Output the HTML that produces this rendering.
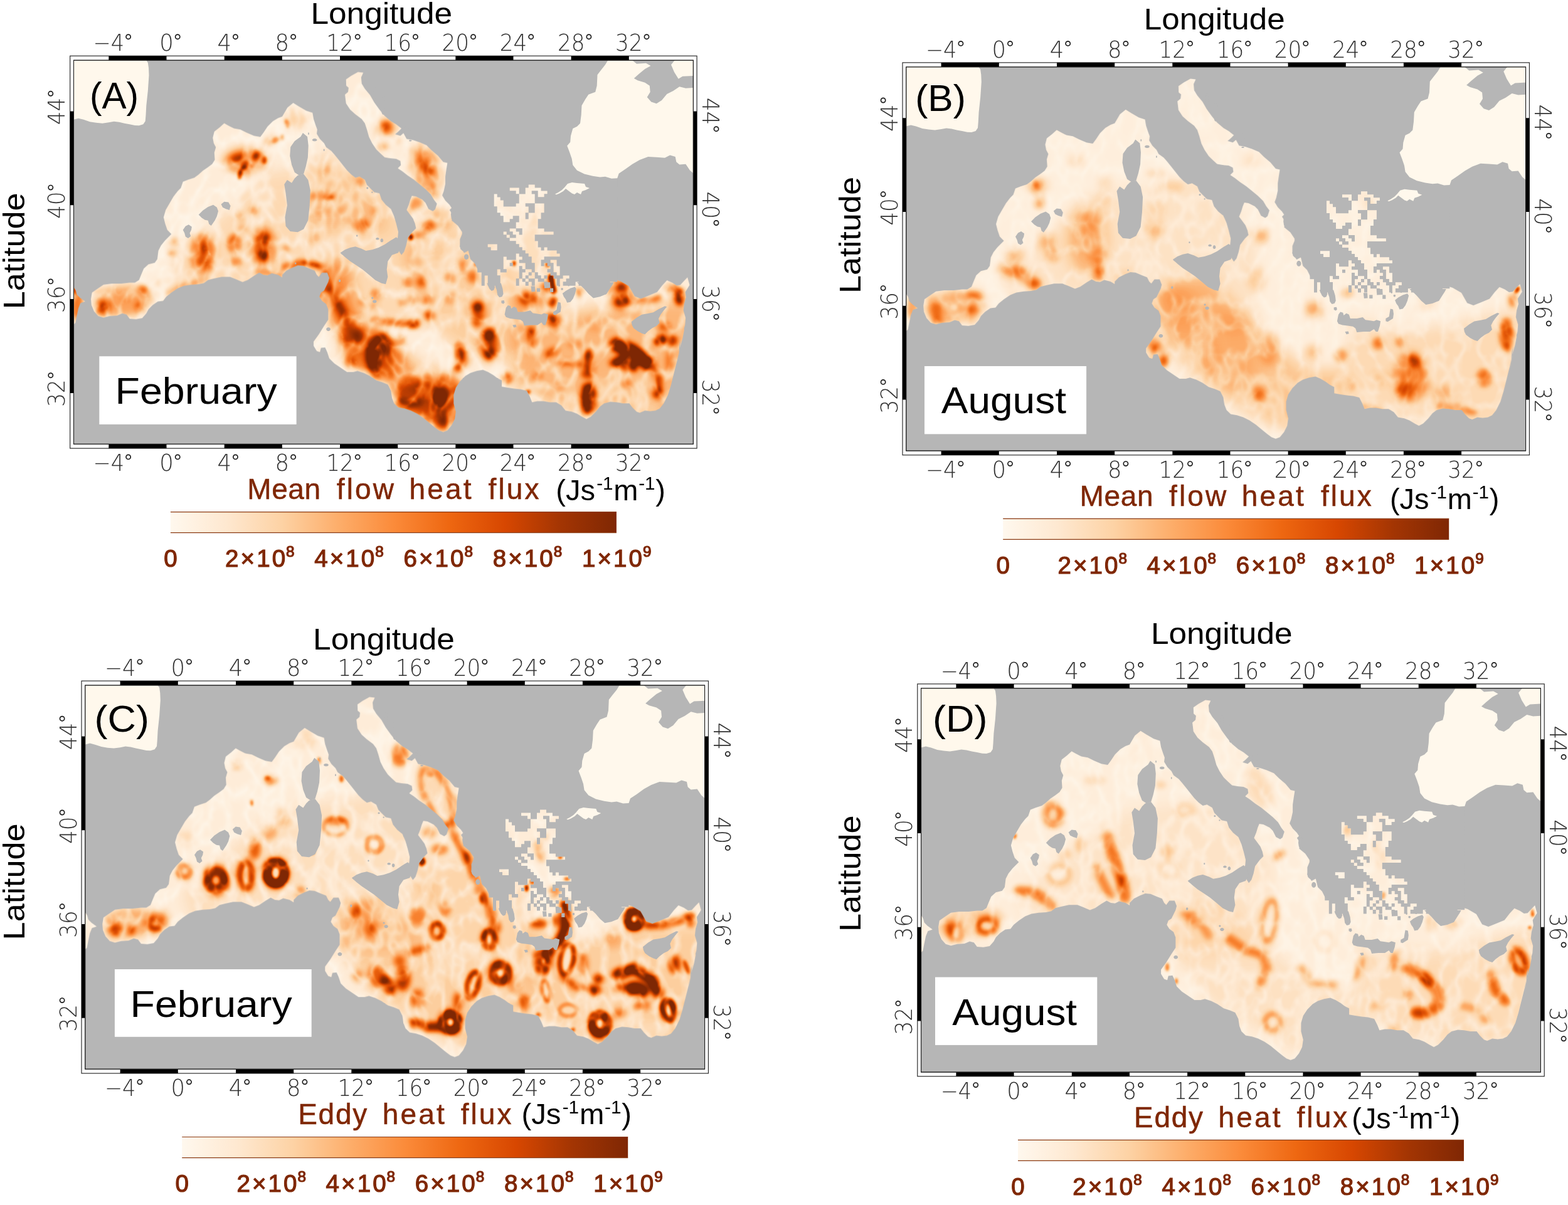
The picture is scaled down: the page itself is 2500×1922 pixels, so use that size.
<!DOCTYPE html>
<html lang="en"><head><meta charset="utf-8"><title>Heat flux maps</title>
<style>html,body{margin:0;padding:0;background:#fff}svg{display:block}text{font-family:"Liberation Sans",sans-serif}.tk{font-family:"DejaVu Sans Light","DejaVu Sans","Liberation Sans",sans-serif;font-weight:200;font-size:36.5px;fill:#303030}.dg{fill:none;stroke:#1c1c1c;stroke-width:1.7px}.cb{font-family:"Liberation Sans",sans-serif;fill:#7f2704;stroke:#7f2704;stroke-width:0.5px}.cbl{stroke-width:1.2px}</style></head><body>
<svg xmlns="http://www.w3.org/2000/svg" width="2500" height="1922" viewBox="0 0 2500 1922">
<defs>
<clipPath id="mapclip"><rect x="0" y="0" width="987.0" height="611.5"/></clipPath>
<mask id="sea" maskUnits="userSpaceOnUse" x="0" y="0" width="987.0" height="611.5"><g fill="#fff"><path d="M27.1,380.6 28.8,370.3 37.1,364.4 47.1,357.8 60.4,356.1 75.4,356.1 88.8,354.4 97.1,354.4 103.8,350.3 107.1,341.9 111.3,331.9 118.8,325.3 128.8,322.8 132.9,316.9 134.6,303.6 138.8,295.3 145.4,286.9 155.4,276.9 148.8,270.3 145.4,260.3 142.9,250.3 146.3,238.6 152.1,228.6 158.8,216.9 165.4,208.6 170.4,203.6 173.8,193.6 182.1,190.3 192.1,186.9 198.8,181.9 205.4,176.1 213.8,170.3 220.4,165.3 224.6,158.6 223.8,146.9 226.3,138.6 222.9,131.9 221.3,123.6 223.8,113.6 232.1,106.9 239.6,100.3 245.4,103.6 255.4,108.6 265.4,110.3 275.4,115.3 287.1,120.3 297.1,121.9 302.1,115.3 308.8,105.3 317.1,96.9 325.4,91.9 332.1,89.4 340.4,75.3 349.6,67.8 358.8,73.6 370.4,80.3 380.4,83.6 382.1,93.6 385.4,103.6 387.9,110.3 387.1,116.9 392.1,125.3 398.8,131.9 402.1,138.6 410.4,144.4 415.4,150.3 422.1,158.6 428.8,166.9 435.4,175.3 442.1,181.9 448.8,186.9 455.4,185.3 463.8,190.3 467.1,198.6 473.8,205.3 478.8,210.3 487.1,211.9 490.4,221.9 497.1,230.3 505.4,236.9 510.4,248.6 513.8,260.3 517.1,273.6 516.3,281.9 513.8,290.3 515.4,298.6 518.8,305.3 522.1,310.3 526.3,305.3 529.6,295.3 532.1,283.6 539.6,273.6 545.4,267.8 543.8,260.3 540.4,251.9 535.4,245.3 530.4,238.6 533.8,230.3 536.3,221.9 538.8,216.1 545.4,216.9 555.4,221.9 560.4,226.9 565.4,236.9 572.1,240.6 575.8,237.8 578.8,228.6 573.8,221.9 568.8,213.6 560.4,205.3 550.4,196.9 542.1,190.3 532.1,183.6 523.8,176.9 516.3,171.9 521.3,166.9 520.4,160.3 513.8,156.9 503.8,156.1 495.4,154.4 488.8,148.6 482.1,141.9 475.4,131.9 470.4,121.9 467.1,110.3 463.8,100.3 458.8,93.6 448.8,86.1 440.4,78.6 433.8,68.6 432.1,54.4 437.1,50.3 437.9,43.6 434.1,40.3 433.8,30.3 442.1,24.4 452.9,18.6 461.3,19.4 457.9,26.9 458.8,36.9 463.8,45.3 472.1,55.3 478.8,66.9 487.1,78.6 495.4,88.6 505.4,96.9 513.8,101.9 522.1,108.6 517.1,113.6 512.1,117.8 520.4,120.3 525.4,116.1 530.4,125.3 540.4,126.9 550.4,130.3 562.1,135.3 570.4,143.6 580.4,151.9 588.8,161.9 595.4,163.6 593.8,173.6 592.1,185.3 592.1,196.9 589.6,208.6 587.1,215.3 592.1,223.6 598.8,230.3 602.1,235.3 598.8,238.6 605.4,248.6 602.1,255.3 612.1,263.6 618.8,273.6 618.8,276.9 615.4,285.3 615.4,296.9 622.1,306.9 628.8,303.6 632.1,316.9 638.8,323.6 643.8,333.6 647.1,345.3 652.1,355.3 658.8,350.3 663.8,360.3 665.5,365.7 668.3,351.5 672.5,350.7 676.4,361.2 682.1,364.6 679.4,352.6 676.4,339.5 671.8,328.3 672.9,322.7 679.8,327.5 682.1,332.0 689.0,327.5 686.7,320.0 681.0,317.0 677.5,309.5 685.6,306.5 692.0,308.4 696.0,314.0 701.3,318.9 702.9,313.3 701.0,303.9 701.7,300.2 707.5,305.8 710.9,307.7 714.4,300.9 707.5,290.8 704.0,282.2 696.0,275.8 687.9,268.4 682.1,266.5 679.8,263.9 685.6,257.1 682.1,251.5 677.5,244.0 671.8,234.6 668.8,227.2 668.8,217.8 671.8,210.3 676.4,207.7 674.8,215.9 681.0,220.8 686.7,223.4 686.7,230.9 694.8,233.5 693.6,223.4 697.1,225.3 700.6,232.8 700.6,221.5 705.2,221.5 709.8,226.0 701.7,214.0 696.0,206.6 700.6,201.7 709.8,196.1 719.0,198.7 725.9,194.6 735.1,198.3 744.3,199.1 748.9,204.7 757.0,205.4 765.1,207.7 758.2,215.9 751.2,227.2 750.1,232.8 750.1,240.3 748.3,250.4 758.2,249.6 768.5,247.4 761.6,257.1 766.2,265.7 768.5,272.1 763.9,280.7 772.0,288.9 765.1,290.8 761.6,282.6 755.9,280.3 753.6,293.8 758.2,300.2 765.1,301.3 770.8,305.8 775.4,310.7 774.3,318.9 770.1,320.0 775.4,330.1 783.5,333.9 776.6,339.5 779.6,343.2 790.4,341.4 799.6,342.5 788.1,348.9 778.9,355.2 790.4,352.6 793.9,356.4 798.9,348.9 806.5,354.5 813.5,352.6 818.1,356.4 818.1,367.6 825.0,373.2 830.7,373.2 842.3,369.5 848.0,373.2 851.9,358.2 854.9,347.7 861.8,348.9 871.1,351.9 884.9,360.1 894.1,376.2 904.0,380.0 914.8,375.8 929.8,369.5 937.9,359.0 945.5,350.7 954.0,354.5 960.9,359.0 966.7,358.2 972.4,351.9 978.2,345.9 981.6,358.2 974.7,369.5 975.9,377.7 972.9,388.2 971.7,398.7 975.2,410.7 974.3,421.9 968.8,441.9 965.4,453.6 963.8,470.3 962.1,483.6 971.8,418.6 972.9,430.3 970.4,443.6 965.4,460.3 962.1,476.9 957.1,496.9 952.1,516.9 947.1,533.6 940.4,546.9 933.8,555.3 927.1,558.6 918.8,559.4 910.4,558.6 902.1,561.9 897.1,560.3 890.4,553.6 885.4,546.9 875.4,546.9 865.4,545.3 855.4,544.4 845.4,546.9 838.8,551.9 832.1,560.3 823.8,568.6 817.1,571.9 810.4,568.6 802.1,563.6 793.8,560.3 783.8,558.6 777.1,550.3 768.8,545.3 758.8,545.3 748.8,543.6 738.8,543.6 730.4,545.3 727.1,536.9 722.1,526.9 712.1,524.4 702.1,523.6 692.1,521.9 682.1,520.3 682.1,510.3 675.4,506.9 668.8,501.9 660.4,496.9 652.1,493.6 642.1,495.3 632.1,498.6 623.8,503.6 615.4,511.9 608.8,521.9 605.4,533.6 605.4,546.9 608.8,560.3 607.1,571.9 602.1,581.9 595.4,590.3 588.8,592.8 582.1,590.3 575.4,585.3 567.1,578.6 557.1,570.3 547.1,563.6 537.1,558.6 527.1,555.3 517.1,553.6 510.4,546.9 507.1,538.6 505.4,526.9 500.4,516.9 492.1,513.6 482.1,510.3 472.1,503.6 462.1,498.6 452.1,495.3 445.4,496.9 435.4,496.9 425.4,490.3 415.4,483.6 407.1,475.3 403.8,465.3 400.4,457.8 393.8,458.6 392.1,465.3 387.1,463.6 382.1,455.3 382.1,448.6 390.4,436.9 398.8,423.6 405.4,413.6 405.4,406.9 405.4,396.9 402.1,388.6 395.4,383.6 391.3,376.9 393.8,370.3 398.8,366.9 402.1,360.3 405.4,353.6 407.1,346.9 403.8,338.6 395.4,338.6 390.4,345.3 387.1,341.9 383.8,335.3 375.4,331.9 365.4,327.8 357.1,326.9 348.8,330.3 338.8,335.3 332.1,341.9 332.1,346.1 325.4,341.9 315.4,339.4 308.8,342.8 302.1,341.9 295.4,338.6 287.1,343.6 277.1,350.3 268.8,353.6 257.1,348.6 248.8,345.3 235.4,345.3 223.8,347.8 213.8,350.3 207.1,355.3 198.8,356.9 187.1,357.8 175.4,359.4 165.4,363.6 155.4,370.3 147.1,376.9 142.1,383.6 133.8,384.4 125.4,390.3 118.8,396.9 115.4,403.6 108.8,411.1 98.8,412.8 88.8,411.9 83.8,405.3 77.1,403.6 68.8,406.9 57.1,407.8 47.1,410.3 38.8,407.8 32.1,400.3 27.9,390.3Z"/><path d="M-1.2,360.3 2.9,366.9 4.6,373.6 9.6,378.6 17.9,384.4 10.4,386.9 7.1,395.3 4.6,406.9 2.4,418.6 -1.2,421.9Z"/><rect x="644.8" y="182.9" width="219.9" height="174.9"/></g></mask>
<path id="flat" d="M-1.2,-1.4 114.6,-1.4 117.9,3.6 119.1,11.9 119.6,23.6 117.9,48.6 115.4,71.9 114.6,86.9 113.8,96.9 110.4,101.9 103.8,103.9 97.1,103.6 88.8,101.9 80.4,100.3 72.1,98.3 63.8,97.3 55.4,98.9 45.4,100.3 35.4,99.4 25.4,97.8 15.4,94.4 7.1,92.3 -1.2,94.4ZM852.1,-1.4 847.1,6.9 840.4,15.3 834.6,22.8 833.8,40.3 831.3,50.3 820.4,54.4 815.4,61.9 809.6,71.9 808.8,86.9 807.1,100.3 802.1,105.3 795.4,108.6 792.1,120.3 791.3,130.3 786.3,136.1 790.4,146.9 793.8,156.9 795.4,166.9 802.1,175.3 813.8,181.1 827.1,184.4 838.8,186.1 847.1,185.3 857.1,188.3 866.3,187.8 868.8,180.3 878.8,173.6 890.4,165.3 902.1,158.6 915.4,153.6 928.8,154.4 942.1,155.3 950.4,151.1 958.8,153.6 960.4,161.9 965.4,166.1 975.4,165.3 982.1,175.3 988.8,181.1 988.8,43.6 975.4,44.4 965.4,41.9 955.4,48.6 945.4,53.6 937.1,63.6 928.8,68.9 920.4,66.1 913.8,58.6 918.8,50.3 917.9,40.3 910.4,35.3 898.8,31.9 892.9,28.6 900.4,21.9 910.4,13.6 919.6,8.6 912.1,4.4 897.1,5.3 888.8,-1.4ZM958.8,-1.4 952.1,6.9 957.1,18.6 963.8,29.4 970.4,25.3 988.8,24.4 988.8,-1.4ZM767.1,213.1 772.1,210.6 778.1,206.6 782.1,202.6 787.1,196.6 794.1,194.6 802.1,195.6 814.1,196.6 816.1,201.6 822.1,203.6 816.1,206.6 810.1,208.6 808.1,213.6 802.1,210.6 798.1,213.6 794.1,212.1 788.1,207.6 784.1,204.6 780.1,208.6 774.1,212.1 769.1,214.1Z" fill="#fff8ec"/>
<g id="isl" fill="#b6b6b6">
<path d="M198.8,246.1 205.4,239.4 213.8,233.6 222.1,230.3 227.9,234.4 230.1,240.3 227.9,248.6 224.6,255.3 218.8,263.6 215.4,261.1 213.8,255.3 208.8,254.4 203.8,251.1Z"/>
<path d="M234.6,229.4 239.6,225.3 246.3,226.1 249.6,231.9 247.9,238.6 242.1,236.9 237.1,234.4Z"/>
<path d="M173.8,270.3 177.9,264.4 182.9,261.9 187.9,265.3 187.1,270.3 184.6,275.3 186.3,280.3 182.1,283.6 177.9,281.1 176.3,275.3Z"/>
<path d="M365.0,115.5 372.2,121.5 373.8,135.8 372.9,154.8 369.8,169.1 366.2,181.0 359.1,183.4 351.9,178.6 347.2,166.7 344.3,152.4 345.3,138.1 351.9,128.6 361.5,121.5Z"/>
<path d="M356.7,183.4 366.2,181.0 373.4,190.5 376.9,207.2 375.8,231.0 373.4,254.8 366.2,269.1 356.7,273.9 344.8,272.7 337.7,264.3 336.5,250.0 340.0,231.0 337.7,211.9 335.3,197.7 340.0,190.5 347.2,195.3 351.9,188.1Z"/>
<path d="M424.6,306.9 432.1,301.9 440.4,298.6 448.8,296.9 458.8,300.3 465.4,303.6 475.4,301.9 485.4,298.6 495.4,293.6 505.4,286.9 513.8,281.9 519.6,286.9 521.3,296.9 517.1,306.9 507.1,310.3 500.4,320.3 498.8,333.6 500.4,345.3 497.1,356.9 490.4,355.3 480.4,350.3 470.4,341.9 460.4,333.6 450.4,326.9 440.4,320.3 432.1,313.6Z"/>
<path d="M686.7,405.2 688.8,394.7 691.9,390.5 696.1,391.6 697.2,395.8 701.4,392.6 705.6,394.7 707.7,401.0 718.1,401.0 727.6,398.9 731.8,403.1 739.1,404.1 745.4,405.2 749.6,403.1 755.9,405.2 754.8,412.5 751.7,422.0 748.5,422.0 745.4,417.8 739.1,422.0 728.6,422.0 718.1,423.0 716.0,416.7 711.9,413.6 703.5,412.5 695.1,411.5 688.8,409.4Z"/>
<path d="M888.8,416.9 897.1,410.3 905.4,405.3 915.4,403.6 923.8,401.9 932.1,396.9 942.1,391.9 945.4,392.8 940.4,398.6 935.4,405.3 932.1,411.9 933.8,418.6 928.8,423.6 922.1,426.9 915.4,431.9 910.4,436.9 905.4,435.3 898.8,431.9 892.1,426.9 889.6,421.9Z"/>
<path d="M778.9,371.7 784.1,367.5 791.5,363.3 798.8,361.2 800.9,364.3 798.8,372.7 795.7,380.0 791.5,385.3 786.2,386.3 784.1,381.1 781.0,376.9Z"/>
<path d="M771.6,385.3 775.8,386.3 776.8,393.7 775.8,401.0 770.5,404.1 767.4,406.2 764.2,405.2 764.2,401.0 769.5,397.9 770.5,391.6Z"/>
<path d="M775.0,359.0 774.7,360.1 774.0,360.8 773.2,360.8 772.5,360.1 772.2,359.0 772.5,357.9 773.2,357.2 774.0,357.2 774.7,357.9Z"/>
<path d="M780.0,364.6 779.7,365.7 778.8,366.4 777.6,366.4 776.7,365.7 776.4,364.6 776.7,363.5 777.6,362.8 778.8,362.8 779.7,363.5Z"/>
<path d="M790.4,358.2 790.1,359.3 789.3,360.0 788.3,360.0 787.5,359.3 787.2,358.2 787.5,357.1 788.3,356.4 789.3,356.4 790.1,357.1Z"/>
<path d="M681.5,383.2 685.7,382.7 686.7,386.3 684.6,388.4 681.5,386.9Z"/>
<path d="M608.9,245.9 608.1,252.0 606.2,255.9 603.7,255.9 601.8,252.0 601.0,245.9 601.8,239.7 603.7,235.9 606.2,235.9 608.1,239.7Z"/>
<path d="M613.7,260.9 613.5,262.2 612.9,263.0 612.2,263.0 611.6,262.2 611.4,260.9 611.6,259.5 612.2,258.7 612.9,258.7 613.5,259.5Z"/>
<path d="M625.7,278.8 625.2,282.6 624.1,284.9 622.7,284.9 621.5,282.6 621.1,278.8 621.5,275.1 622.7,272.8 624.1,272.8 625.2,275.1Z"/>
<path d="M626.8,296.4 625.7,300.8 622.9,303.6 619.3,303.6 616.4,300.8 615.3,296.4 616.4,292.0 619.3,289.3 622.9,289.3 625.7,292.0Z"/>
<path d="M629.4,313.3 628.7,315.9 626.8,317.6 624.5,317.6 622.7,315.9 622.0,313.3 622.7,310.6 624.5,309.0 626.8,309.0 628.7,310.6Z"/>
<path d="M387.7,126.8 386.9,128.1 385.0,128.9 382.5,128.9 380.6,128.1 379.8,126.8 380.6,125.5 382.5,124.7 385.0,124.7 386.9,125.5Z"/>
<path d="M482.6,384.4 482.0,386.0 480.4,386.9 478.4,386.9 476.8,386.0 476.2,384.4 476.8,382.9 478.4,382.0 480.4,382.0 482.0,382.9Z"/>
<path d="M477.5,378.8 477.2,379.7 476.4,380.3 475.4,380.3 474.6,379.7 474.3,378.8 474.6,377.9 475.4,377.4 476.4,377.4 477.2,377.9Z"/>
<path d="M425.2,351.5 424.9,352.8 424.1,353.6 423.1,353.6 422.3,352.8 422.0,351.5 422.3,350.2 423.1,349.4 424.1,349.4 424.9,350.2Z"/>
<path d="M452.4,279.6 452.2,280.5 451.6,281.0 450.9,281.0 450.3,280.5 450.1,279.6 450.3,278.7 450.9,278.2 451.6,278.2 452.2,278.7Z"/>
<path d="M493.2,287.1 492.8,288.8 491.6,289.9 490.2,289.9 489.0,288.8 488.6,287.1 489.0,285.3 490.2,284.2 491.6,284.2 492.8,285.3Z"/>
<path d="M486.7,284.5 486.2,285.6 484.8,286.2 483.1,286.2 481.7,285.6 481.2,284.5 481.7,283.4 483.1,282.7 484.8,282.7 486.2,283.4Z"/>
<path d="M354.5,323.8 354.3,324.7 353.7,325.2 353.0,325.2 352.4,324.7 352.2,323.8 352.4,322.9 353.0,322.4 353.7,322.4 354.3,322.9Z"/>
<path d="M699.3,422.0 704.5,421.4 705.6,425.1 701.4,426.1Z"/>
<path d="M409.1,428.6 408.4,430.4 406.7,431.5 404.6,431.5 402.9,430.4 402.2,428.6 402.9,426.9 404.6,425.8 406.7,425.8 408.4,426.9Z"/>
<path d="M402.2,463.1 401.4,465.3 399.5,466.7 397.1,466.7 395.1,465.3 394.4,463.1 395.1,460.9 397.1,459.5 399.5,459.5 401.4,460.9Z"/>
<path d="M522.0,117.4 521.6,118.3 520.4,118.9 519.0,118.9 517.8,118.3 517.4,117.4 517.8,116.5 519.0,116.0 520.4,116.0 521.6,116.5Z"/>
<path d="M538.6,127.9 538.1,128.6 537.0,129.0 535.6,129.0 534.4,128.6 534.0,127.9 534.4,127.3 535.6,126.8 537.0,126.8 538.1,127.3Z"/>
<path d="M556.6,127.9 555.7,128.8 553.4,129.3 550.5,129.3 548.2,128.8 547.3,127.9 548.2,127.0 550.5,126.5 553.4,126.5 555.7,127.0Z"/>
<path d="M542.7,120.4 541.6,121.5 538.8,122.2 535.2,122.2 532.3,121.5 531.2,120.4 532.3,119.3 535.2,118.6 538.8,118.6 541.6,119.3Z"/>
<path d="M539.3,112.9 538.0,113.8 534.5,114.4 530.2,114.4 526.8,113.8 525.5,112.9 526.8,112.1 530.2,111.5 534.5,111.5 538.0,112.1Z"/>
<path d="M535.8,106.6 534.9,107.9 532.6,108.7 529.8,108.7 527.5,107.9 526.6,106.6 527.5,105.2 529.8,104.4 532.6,104.4 534.9,105.2Z"/>
<path d="M496.0,81.1 495.4,84.4 494.1,86.4 492.3,86.4 491.0,84.4 490.4,81.1 491.0,77.8 492.3,75.8 494.1,75.8 495.4,77.8Z"/>
<path d="M481.7,53.0 481.2,59.6 480.1,63.7 478.7,63.7 477.5,59.6 477.1,53.0 477.5,46.4 478.7,42.3 480.1,42.3 481.2,46.4Z"/>
<path d="M496.0,62.4 495.4,65.7 494.1,67.7 492.3,67.7 491.0,65.7 490.4,62.4 491.0,59.1 492.3,57.0 494.1,57.0 495.4,59.1Z"/>
<path d="M375.0,116.7 374.8,117.8 374.4,118.5 373.8,118.5 373.3,117.8 373.2,116.7 373.3,115.6 373.8,114.9 374.4,114.9 374.8,115.6Z"/>
<path d="M399.7,142.9 399.5,144.0 399.0,144.7 398.5,144.7 398.0,144.0 397.8,142.9 398.0,141.8 398.5,141.1 399.0,141.1 399.5,141.8Z"/>
<path d="M469.5,203.6 469.2,204.4 468.4,205.0 467.4,205.0 466.6,204.4 466.2,203.6 466.6,202.7 467.4,202.1 468.4,202.1 469.2,202.7Z"/>
<path d="M476.6,210.3 476.4,211.0 475.8,211.4 475.1,211.4 474.5,211.0 474.3,210.3 474.5,209.6 475.1,209.2 475.8,209.2 476.4,209.6Z"/>
<path d="M431.5,307.7 430.9,308.8 429.5,309.5 427.8,309.5 426.5,308.8 425.9,307.7 426.5,306.6 427.8,305.9 429.5,305.9 430.9,306.6Z"/>
<path d="M183.3,279.6 182.9,280.7 181.7,281.4 180.3,281.4 179.1,280.7 178.7,279.6 179.1,278.5 180.3,277.8 181.7,277.8 182.9,278.5Z"/>
<path d="M728.6,360.1 734.9,360.1 735.4,368.5 729.7,369.0Z"/>
<path d="M738.0,363.3 743.3,363.3 743.3,369.0 738.0,369.0Z"/>
<path d="M749.6,353.9 759.0,353.9 759.5,362.8 750.1,363.3Z"/>
<path d="M759.0,363.3 764.2,363.3 764.2,369.6 759.0,369.6Z"/>
<path d="M658.4,355.4 670.5,355.4 671.0,362.2 669.4,366.4 665.8,367.5 662.6,364.3 660.5,360.1Z"/>
<path d="M671.5,355.4 680.9,355.4 683.6,364.3 684.6,372.7 682.5,376.9 678.3,377.9 675.2,373.8 674.1,366.4 672.0,361.2Z"/>
<path d="M802.0,353.9 806.1,358.0 808.2,359.1 813.5,364.3 820.8,372.7 828.1,379.0 838.6,376.9 849.1,372.7 854.3,364.3 858.5,358.0 860.6,353.9Z"/>
<path d="M643.3,181.4h222.9v6.8h-222.9zM643.3,187.9h222.9v5.3h-222.9zM643.3,192.9h222.9v5.3h-222.9zM643.3,197.9h81.5v5.3h-81.5zM734.8,197.9h131.4v5.3h-131.4zM643.3,202.9h51.5v5.3h-51.5zM709.8,202.9h10.0v5.3h-10.0zM744.7,202.9h121.4v5.3h-121.4zM643.3,207.9h61.5v5.3h-61.5zM709.8,207.9h10.0v5.3h-10.0zM729.8,207.9h10.0v5.3h-10.0zM754.7,207.9h111.4v5.3h-111.4zM643.3,212.9h26.5v5.3h-26.5zM674.8,212.9h35.0v5.3h-35.0zM734.8,212.9h5.0v5.3h-5.0zM749.7,212.9h116.4v5.3h-116.4zM643.3,217.9h26.5v5.3h-26.5zM679.8,217.9h30.0v5.3h-30.0zM734.8,217.9h131.4v5.3h-131.4zM643.3,222.9h26.5v5.3h-26.5zM684.8,222.9h25.0v5.3h-25.0zM734.8,222.9h131.4v5.3h-131.4zM643.3,227.9h26.5v5.3h-26.5zM684.8,227.9h20.0v5.3h-20.0zM719.8,227.9h15.0v5.3h-15.0zM749.7,227.9h116.4v5.3h-116.4zM643.3,232.9h31.5v5.3h-31.5zM724.8,232.9h10.0v5.3h-10.0zM749.7,232.9h116.4v5.3h-116.4zM643.3,237.9h31.5v5.3h-31.5zM724.8,237.9h10.0v5.3h-10.0zM749.7,237.9h116.4v5.3h-116.4zM643.3,242.9h36.5v5.3h-36.5zM719.8,242.9h5.0v5.3h-5.0zM744.7,242.9h121.4v5.3h-121.4zM643.3,247.9h41.5v5.3h-41.5zM699.8,247.9h10.0v5.3h-10.0zM719.8,247.9h5.0v5.3h-5.0zM744.7,247.9h121.4v5.3h-121.4zM643.3,252.9h41.5v5.3h-41.5zM694.8,252.9h15.0v5.3h-15.0zM739.8,252.9h126.4v5.3h-126.4zM643.3,257.9h61.5v5.3h-61.5zM739.8,257.9h126.4v5.3h-126.4zM643.3,262.9h61.5v5.3h-61.5zM739.8,262.9h126.4v5.3h-126.4zM643.3,267.9h51.5v5.3h-51.5zM704.8,267.9h10.0v5.3h-10.0zM749.7,267.9h116.4v5.3h-116.4zM643.3,272.9h41.5v5.3h-41.5zM689.8,272.9h10.0v5.3h-10.0zM709.8,272.9h5.0v5.3h-5.0zM764.7,272.9h101.4v5.3h-101.4zM643.3,277.9h46.5v5.3h-46.5zM694.8,277.9h10.0v5.3h-10.0zM734.8,277.9h131.4v5.3h-131.4zM643.3,282.8h51.5v5.3h-51.5zM734.8,282.8h131.4v5.3h-131.4zM643.3,287.8h61.5v5.3h-61.5zM739.8,287.8h126.4v5.3h-126.4zM643.3,292.8h16.5v5.3h-16.5zM674.8,292.8h35.0v5.3h-35.0zM739.8,292.8h126.4v5.3h-126.4zM643.3,297.8h21.5v5.3h-21.5zM674.8,297.8h40.0v5.3h-40.0zM744.7,297.8h5.0v5.3h-5.0zM754.7,297.8h111.4v5.3h-111.4zM643.3,302.8h76.5v5.3h-76.5zM769.7,302.8h96.5v5.3h-96.5zM643.3,307.8h61.5v5.3h-61.5zM709.8,307.8h15.0v5.3h-15.0zM774.7,307.8h91.5v5.3h-91.5zM643.3,312.8h41.5v5.3h-41.5zM689.8,312.8h15.0v5.3h-15.0zM714.8,312.8h15.0v5.3h-15.0zM749.7,312.8h116.4v5.3h-116.4zM643.3,317.8h41.5v5.3h-41.5zM709.8,317.8h20.0v5.3h-20.0zM744.7,317.8h15.0v5.3h-15.0zM769.7,317.8h96.5v5.3h-96.5zM643.3,322.8h41.5v5.3h-41.5zM694.8,322.8h5.0v5.3h-5.0zM719.8,322.8h15.0v5.3h-15.0zM744.7,322.8h5.0v5.3h-5.0zM754.7,322.8h10.0v5.3h-10.0zM769.7,322.8h96.5v5.3h-96.5zM643.3,327.8h41.5v5.3h-41.5zM709.8,327.8h5.0v5.3h-5.0zM719.8,327.8h15.0v5.3h-15.0zM759.7,327.8h5.0v5.3h-5.0zM774.7,327.8h91.5v5.3h-91.5zM643.3,332.8h31.5v5.3h-31.5zM679.8,332.8h10.0v5.3h-10.0zM709.8,332.8h10.0v5.3h-10.0zM729.8,332.8h5.0v5.3h-5.0zM754.7,332.8h10.0v5.3h-10.0zM774.7,332.8h91.5v5.3h-91.5zM649.8,337.8h25.0v5.3h-25.0zM709.8,337.8h5.0v5.3h-5.0zM724.8,337.8h5.0v5.3h-5.0zM734.8,337.8h5.0v5.3h-5.0zM759.7,337.8h10.0v5.3h-10.0zM774.7,337.8h91.5v5.3h-91.5zM649.8,342.8h5.0v5.3h-5.0zM659.8,342.8h20.0v5.3h-20.0zM709.8,342.8h5.0v5.3h-5.0zM719.8,342.8h5.0v5.3h-5.0zM734.8,342.8h10.0v5.3h-10.0zM749.7,342.8h5.0v5.3h-5.0zM764.7,342.8h15.0v5.3h-15.0zM789.7,342.8h76.5v5.3h-76.5zM649.8,347.8h5.0v5.3h-5.0zM659.8,347.8h20.0v5.3h-20.0zM704.8,347.8h5.0v5.3h-5.0zM714.8,347.8h5.0v5.3h-5.0zM724.8,347.8h10.0v5.3h-10.0zM739.8,347.8h10.0v5.3h-10.0zM769.7,347.8h5.0v5.3h-5.0zM784.7,347.8h81.5v5.3h-81.5zM649.8,352.8h5.0v6.5h-5.0zM659.8,352.8h20.0v6.5h-20.0zM704.8,352.8h5.0v6.5h-5.0zM719.8,352.8h5.0v6.5h-5.0zM729.8,352.8h5.0v6.5h-5.0zM749.7,352.8h5.0v6.5h-5.0zM769.7,352.8h5.0v6.5h-5.0zM779.7,352.8h20.0v6.5h-20.0zM804.7,352.8h50.0v6.5h-50.0z"/>
</g>
<filter id="cmapA" x="0" y="0" width="987.0" height="611.5" filterUnits="userSpaceOnUse" color-interpolation-filters="sRGB"><feTurbulence type="turbulence" baseFrequency="0.035 0.024" numOctaves="2" seed="11" result="t"/><feColorMatrix in="t" type="matrix" values="2.6 0 0 0 0  2.6 0 0 0 0  2.6 0 0 0 0  0 0 0 0 1" result="n"/><feGaussianBlur in="n" stdDeviation="1.2" result="nb"/><feComposite in="SourceGraphic" in2="nb" operator="arithmetic" k1="0.5" k2="0.74" k3="0.04" k4="-0.014" result="c"/><feComponentTransfer in="c"><feFuncR type="table" tableValues="1.000 0.996 0.992 0.992 0.984 0.933 0.843 0.639 0.498"/><feFuncG type="table" tableValues="0.973 0.910 0.824 0.682 0.545 0.404 0.278 0.208 0.153"/><feFuncB type="table" tableValues="0.933 0.816 0.643 0.420 0.227 0.067 0.004 0.012 0.016"/><feFuncA type="linear" slope="0" intercept="1"/></feComponentTransfer></filter>
<filter id="cmapB" x="0" y="0" width="987.0" height="611.5" filterUnits="userSpaceOnUse" color-interpolation-filters="sRGB"><feTurbulence type="turbulence" baseFrequency="0.035 0.024" numOctaves="2" seed="23" result="t"/><feColorMatrix in="t" type="matrix" values="2.6 0 0 0 0  2.6 0 0 0 0  2.6 0 0 0 0  0 0 0 0 1" result="n"/><feGaussianBlur in="n" stdDeviation="1.2" result="nb"/><feComposite in="SourceGraphic" in2="nb" operator="arithmetic" k1="0.35" k2="0.82" k3="0.02" k4="-0.007" result="c"/><feComponentTransfer in="c"><feFuncR type="table" tableValues="1.000 0.996 0.992 0.992 0.984 0.933 0.843 0.639 0.498"/><feFuncG type="table" tableValues="0.973 0.910 0.824 0.682 0.545 0.404 0.278 0.208 0.153"/><feFuncB type="table" tableValues="0.933 0.816 0.643 0.420 0.227 0.067 0.004 0.012 0.016"/><feFuncA type="linear" slope="0" intercept="1"/></feComponentTransfer></filter>
<filter id="cmapC" x="0" y="0" width="987.0" height="611.5" filterUnits="userSpaceOnUse" color-interpolation-filters="sRGB"><feTurbulence type="turbulence" baseFrequency="0.035 0.024" numOctaves="2" seed="37" result="t"/><feColorMatrix in="t" type="matrix" values="2.6 0 0 0 0  2.6 0 0 0 0  2.6 0 0 0 0  0 0 0 0 1" result="n"/><feGaussianBlur in="n" stdDeviation="1.2" result="nb"/><feComposite in="SourceGraphic" in2="nb" operator="arithmetic" k1="0.5" k2="0.74" k3="0.04" k4="-0.014" result="c"/><feComponentTransfer in="c"><feFuncR type="table" tableValues="1.000 0.996 0.992 0.992 0.984 0.933 0.843 0.639 0.498"/><feFuncG type="table" tableValues="0.973 0.910 0.824 0.682 0.545 0.404 0.278 0.208 0.153"/><feFuncB type="table" tableValues="0.933 0.816 0.643 0.420 0.227 0.067 0.004 0.012 0.016"/><feFuncA type="linear" slope="0" intercept="1"/></feComponentTransfer></filter>
<filter id="cmapD" x="0" y="0" width="987.0" height="611.5" filterUnits="userSpaceOnUse" color-interpolation-filters="sRGB"><feTurbulence type="turbulence" baseFrequency="0.035 0.024" numOctaves="2" seed="41" result="t"/><feColorMatrix in="t" type="matrix" values="2.6 0 0 0 0  2.6 0 0 0 0  2.6 0 0 0 0  0 0 0 0 1" result="n"/><feGaussianBlur in="n" stdDeviation="1.2" result="nb"/><feComposite in="SourceGraphic" in2="nb" operator="arithmetic" k1="0.4" k2="0.8" k3="0.03" k4="-0.010" result="c"/><feComponentTransfer in="c"><feFuncR type="table" tableValues="1.000 0.996 0.992 0.992 0.984 0.933 0.843 0.639 0.498"/><feFuncG type="table" tableValues="0.973 0.910 0.824 0.682 0.545 0.404 0.278 0.208 0.153"/><feFuncB type="table" tableValues="0.933 0.816 0.643 0.420 0.227 0.067 0.004 0.012 0.016"/><feFuncA type="linear" slope="0" intercept="1"/></feComponentTransfer></filter>
<filter id="b2" x="-20%" y="-20%" width="140%" height="140%" color-interpolation-filters="sRGB"><feGaussianBlur stdDeviation="2"/></filter>
<filter id="b4" x="-20%" y="-20%" width="140%" height="140%" color-interpolation-filters="sRGB"><feGaussianBlur stdDeviation="4"/></filter>
<filter id="b7" x="-20%" y="-20%" width="140%" height="140%" color-interpolation-filters="sRGB"><feGaussianBlur stdDeviation="7"/></filter>
<filter id="b12" x="-20%" y="-20%" width="140%" height="140%" color-interpolation-filters="sRGB"><feGaussianBlur stdDeviation="12"/></filter>
<linearGradient id="cbg" x1="0" x2="1" y1="0" y2="0"><stop offset="0.000" stop-color="#fff8ee"/><stop offset="0.125" stop-color="#fee8d0"/><stop offset="0.250" stop-color="#fdd2a4"/><stop offset="0.375" stop-color="#fdae6b"/><stop offset="0.500" stop-color="#fb8b3a"/><stop offset="0.625" stop-color="#ee6711"/><stop offset="0.750" stop-color="#d74701"/><stop offset="0.875" stop-color="#a33503"/><stop offset="1.000" stop-color="#7f2704"/></linearGradient>
<g id="frame"><rect x="-6.2" y="-7.2" width="999.4" height="625.9" fill="#fff" stroke="#1c1c1c" stroke-width="1.1"/><path d="M55.4,-7.2h92.2v7.2h-92.2z M55.4,611.5h92.2v7.2h-92.2z M239.8,-7.2h92.2v7.2h-92.2z M239.8,611.5h92.2v7.2h-92.2z M424.1,-7.2h92.2v7.2h-92.2z M424.1,611.5h92.2v7.2h-92.2z M608.4,-7.2h92.2v7.2h-92.2z M608.4,611.5h92.2v7.2h-92.2z M792.7,-7.2h92.2v7.2h-92.2z M792.7,611.5h92.2v7.2h-92.2z M-6.2,81.1h6.2v149.8h-6.2z M987.0,81.1h6.2v149.8h-6.2z M-6.2,380.7h6.2v149.8h-6.2z M987.0,380.7h6.2v149.8h-6.2z" fill="#000"/><rect x="-0.4" y="-0.2" width="987.8" height="612.1" fill="#b6b6b6" stroke="#1c1c1c" stroke-width="1.1"/></g>
<g id="ticks"><text class="tk" x="30.7" y="-15.2" textLength="49.5" lengthAdjust="spacingAndGlyphs">−4</text><circle class="dg" cx="86.7" cy="-37.7" r="3.6"/><text class="tk" x="30.7" y="655.0" textLength="49.5" lengthAdjust="spacingAndGlyphs">−4</text><circle class="dg" cx="86.7" cy="632.5" r="3.6"/><text class="tk" x="136.3" y="-15.2" textLength="22.5" lengthAdjust="spacingAndGlyphs">0</text><circle class="dg" cx="165.3" cy="-37.7" r="3.6"/><text class="tk" x="136.3" y="655.0" textLength="22.5" lengthAdjust="spacingAndGlyphs">0</text><circle class="dg" cx="165.3" cy="632.5" r="3.6"/><text class="tk" x="228.5" y="-15.2" textLength="22.5" lengthAdjust="spacingAndGlyphs">4</text><circle class="dg" cx="257.5" cy="-37.7" r="3.6"/><text class="tk" x="228.5" y="655.0" textLength="22.5" lengthAdjust="spacingAndGlyphs">4</text><circle class="dg" cx="257.5" cy="632.5" r="3.6"/><text class="tk" x="320.7" y="-15.2" textLength="22.5" lengthAdjust="spacingAndGlyphs">8</text><circle class="dg" cx="349.7" cy="-37.7" r="3.6"/><text class="tk" x="320.7" y="655.0" textLength="22.5" lengthAdjust="spacingAndGlyphs">8</text><circle class="dg" cx="349.7" cy="632.5" r="3.6"/><text class="tk" x="402.3" y="-15.2" textLength="43.5" lengthAdjust="spacingAndGlyphs">12</text><circle class="dg" cx="452.3" cy="-37.7" r="3.6"/><text class="tk" x="402.3" y="655.0" textLength="43.5" lengthAdjust="spacingAndGlyphs">12</text><circle class="dg" cx="452.3" cy="632.5" r="3.6"/><text class="tk" x="494.5" y="-15.2" textLength="43.5" lengthAdjust="spacingAndGlyphs">16</text><circle class="dg" cx="544.5" cy="-37.7" r="3.6"/><text class="tk" x="494.5" y="655.0" textLength="43.5" lengthAdjust="spacingAndGlyphs">16</text><circle class="dg" cx="544.5" cy="632.5" r="3.6"/><text class="tk" x="586.6" y="-15.2" textLength="43.5" lengthAdjust="spacingAndGlyphs">20</text><circle class="dg" cx="636.6" cy="-37.7" r="3.6"/><text class="tk" x="586.6" y="655.0" textLength="43.5" lengthAdjust="spacingAndGlyphs">20</text><circle class="dg" cx="636.6" cy="632.5" r="3.6"/><text class="tk" x="678.8" y="-15.2" textLength="43.5" lengthAdjust="spacingAndGlyphs">24</text><circle class="dg" cx="728.8" cy="-37.7" r="3.6"/><text class="tk" x="678.8" y="655.0" textLength="43.5" lengthAdjust="spacingAndGlyphs">24</text><circle class="dg" cx="728.8" cy="632.5" r="3.6"/><text class="tk" x="771.0" y="-15.2" textLength="43.5" lengthAdjust="spacingAndGlyphs">28</text><circle class="dg" cx="821.0" cy="-37.7" r="3.6"/><text class="tk" x="771.0" y="655.0" textLength="43.5" lengthAdjust="spacingAndGlyphs">28</text><circle class="dg" cx="821.0" cy="632.5" r="3.6"/><text class="tk" x="863.1" y="-15.2" textLength="43.5" lengthAdjust="spacingAndGlyphs">32</text><circle class="dg" cx="913.1" cy="-37.7" r="3.6"/><text class="tk" x="863.1" y="655.0" textLength="43.5" lengthAdjust="spacingAndGlyphs">32</text><circle class="dg" cx="913.1" cy="632.5" r="3.6"/><g transform="translate(-14.6,81.1) rotate(-90)"><text class="tk" x="-21.8" y="0" textLength="43.5" lengthAdjust="spacingAndGlyphs">44</text><circle class="dg" cx="28.2" cy="-22.5" r="3.6"/></g><g transform="translate(1001.6,81.1) rotate(90)"><text class="tk" x="-21.8" y="0" textLength="43.5" lengthAdjust="spacingAndGlyphs">44</text><circle class="dg" cx="28.2" cy="-22.5" r="3.6"/></g><g transform="translate(-14.6,230.9) rotate(-90)"><text class="tk" x="-21.8" y="0" textLength="43.5" lengthAdjust="spacingAndGlyphs">40</text><circle class="dg" cx="28.2" cy="-22.5" r="3.6"/></g><g transform="translate(1001.6,230.9) rotate(90)"><text class="tk" x="-21.8" y="0" textLength="43.5" lengthAdjust="spacingAndGlyphs">40</text><circle class="dg" cx="28.2" cy="-22.5" r="3.6"/></g><g transform="translate(-14.6,380.7) rotate(-90)"><text class="tk" x="-21.8" y="0" textLength="43.5" lengthAdjust="spacingAndGlyphs">36</text><circle class="dg" cx="28.2" cy="-22.5" r="3.6"/></g><g transform="translate(1001.6,380.7) rotate(90)"><text class="tk" x="-21.8" y="0" textLength="43.5" lengthAdjust="spacingAndGlyphs">36</text><circle class="dg" cx="28.2" cy="-22.5" r="3.6"/></g><g transform="translate(-14.6,530.5) rotate(-90)"><text class="tk" x="-21.8" y="0" textLength="43.5" lengthAdjust="spacingAndGlyphs">32</text><circle class="dg" cx="28.2" cy="-22.5" r="3.6"/></g><g transform="translate(1001.6,530.5) rotate(90)"><text class="tk" x="-21.8" y="0" textLength="43.5" lengthAdjust="spacingAndGlyphs">32</text><circle class="dg" cx="28.2" cy="-22.5" r="3.6"/></g></g>
<g id="cbar"><rect x="154" y="720.2" width="711" height="33" fill="url(#cbg)"/><path d="M154,720.2h711M154,753.3h711" stroke="#8a3a12" stroke-width="1.2" fill="none"/><text class="cb cbl" x="154.0" y="807.6" font-size="38.5" text-anchor="middle">0</text><text class="cb cbl" x="241.2" y="807.6" font-size="38.5" textLength="96.0" lengthAdjust="spacing">2×10</text><text class="cb cbl" x="338.2" y="792" font-size="23" textLength="13.5" lengthAdjust="spacingAndGlyphs">8</text><text class="cb cbl" x="383.4" y="807.6" font-size="38.5" textLength="96.0" lengthAdjust="spacing">4×10</text><text class="cb cbl" x="480.4" y="792" font-size="23" textLength="13.5" lengthAdjust="spacingAndGlyphs">8</text><text class="cb cbl" x="525.6" y="807.6" font-size="38.5" textLength="96.0" lengthAdjust="spacing">6×10</text><text class="cb cbl" x="622.6" y="792" font-size="23" textLength="13.5" lengthAdjust="spacingAndGlyphs">8</text><text class="cb cbl" x="667.8" y="807.6" font-size="38.5" textLength="96.0" lengthAdjust="spacing">8×10</text><text class="cb cbl" x="764.8" y="792" font-size="23" textLength="13.5" lengthAdjust="spacingAndGlyphs">8</text><text class="cb cbl" x="810.0" y="807.6" font-size="38.5" textLength="96.0" lengthAdjust="spacing">1×10</text><text class="cb cbl" x="907.0" y="792" font-size="23" textLength="13.5" lengthAdjust="spacingAndGlyphs">9</text></g>
</defs>
<rect width="2500" height="1922" fill="#fff"/>
<g transform="translate(117.9,96.4)">
<use href="#frame"/>
<rect x="0" y="0" width="987.0" height="611.5" fill="#b6b6b6"/>
<g clip-path="url(#mapclip)">
<g mask="url(#sea)"><g filter="url(#cmapA)">
<rect x="0" y="0" width="987.0" height="611.5" fill="#000"/>
<rect x="0" y="0" width="987" height="612" fill="#fff" opacity="0.05"/>
<g filter="url(#b12)"><path d="M150.0,330.0 300.0,180.0 480.0,150.0 560.0,280.0 560.0,420.0 400.0,430.0 200.0,460.0Z" fill="#fff" opacity="0.1"/><path d="M415.0,340.0 430.0,410.0 480.0,465.0 540.0,500.0 600.0,530.0 640.0,570.0" fill="none" stroke="#fff" stroke-width="45.0" stroke-linecap="round" stroke-linejoin="round" opacity="0.3"/><path d="M520.0,300.0 620.0,260.0 700.0,330.0 720.0,480.0 640.0,480.0 560.0,420.0Z" fill="#fff" opacity="0.15"/><path d="M700.0,380.0 800.0,400.0 900.0,380.0 990.0,380.0 990.0,560.0 900.0,580.0 780.0,560.0 700.0,520.0Z" fill="#fff" opacity="0.22"/><path d="M700.0,230.0 780.0,230.0 780.0,380.0 700.0,380.0Z" fill="#fff" opacity="0.08"/><path d="M373.8,151.9 418.8,151.9 482.1,218.6 507.1,273.6 373.8,273.6Z" fill="#fff" opacity="0.12"/></g><g filter="url(#b7)"><ellipse cx="273.8" cy="160.3" rx="36.7" ry="21.7" fill="#fff" opacity="0.35"/><path d="M30.4,370.3 65.4,360.3 115.4,358.6 125.4,378.6 115.4,403.6 82.1,408.6 37.1,406.9Z" fill="#fff" opacity="0.28"/><ellipse cx="205.4" cy="306.9" rx="18.3" ry="33.3" fill="#fff" opacity="0.45"/><ellipse cx="302.1" cy="296.9" rx="18.3" ry="30.0" fill="#fff" opacity="0.45"/><ellipse cx="352.1" cy="93.6" rx="20.0" ry="16.7" fill="#fff" opacity="0.15"/><ellipse cx="497.1" cy="108.6" rx="16.7" ry="15.0" fill="#fff" opacity="0.3"/><ellipse cx="560.4" cy="173.6" rx="23.3" ry="41.7" fill="#fff" opacity="0.35" transform="rotate(-20 560.4 173.6)"/><ellipse cx="385.4" cy="283.6" rx="16.7" ry="10.0" fill="#fff" opacity="0.12"/><path d="M403.8,353.6 418.8,386.9 435.4,416.9 452.1,445.3" fill="none" stroke="#fff" stroke-width="16.7" stroke-linecap="round" stroke-linejoin="round" opacity="0.4"/><ellipse cx="582.1" cy="253.6" rx="25.0" ry="20.0" fill="#fff" opacity="0.2"/><ellipse cx="643.8" cy="403.6" rx="11.7" ry="20.0" fill="#fff" opacity="0.4"/><ellipse cx="662.1" cy="453.6" rx="13.3" ry="25.0" fill="#fff" opacity="0.4"/><path d="M425.4,423.6 482.1,430.3 515.4,455.3 523.8,488.6 515.4,513.6 482.1,506.9 448.8,493.6 425.4,480.3Z" fill="#fff" opacity="0.35"/><path d="M507.1,516.9 557.1,506.9 598.8,500.3 612.1,520.3 607.1,573.6 588.8,591.9 557.1,570.3 515.4,553.6Z" fill="#fff" opacity="0.6"/><ellipse cx="553.8" cy="483.6" rx="20.0" ry="21.7" fill="#000" opacity="0.25"/><ellipse cx="662.1" cy="451.9" rx="11.7" ry="21.7" fill="#fff" opacity="0.4"/><ellipse cx="398.8" cy="438.6" rx="13.3" ry="25.0" fill="#000" opacity="0.3"/><ellipse cx="727.1" cy="380.3" rx="21.7" ry="11.7" fill="#fff" opacity="0.45"/><ellipse cx="870.4" cy="371.9" rx="18.3" ry="23.3" fill="#fff" opacity="0.5"/><ellipse cx="850.4" cy="391.9" rx="8.3" ry="13.3" fill="#000" opacity="0.4"/><ellipse cx="832.1" cy="420.3" rx="13.3" ry="10.0" fill="#fff" opacity="0.15"/><ellipse cx="912.1" cy="553.6" rx="21.7" ry="6.7" fill="#000" opacity="0.35"/><ellipse cx="848.8" cy="521.9" rx="10.0" ry="13.3" fill="#000" opacity="0.2"/><ellipse cx="703.8" cy="471.9" rx="13.3" ry="10.0" fill="#000" opacity="0.25"/></g><g filter="url(#b4)"><ellipse cx="263.8" cy="155.3" rx="15.0" ry="6.7" fill="#fff" opacity="0.55" transform="rotate(-10 263.8 155.3)"/><ellipse cx="290.4" cy="151.9" rx="9.2" ry="7.5" fill="#fff" opacity="0.9"/><ellipse cx="315.4" cy="126.9" rx="13.3" ry="6.7" fill="#fff" opacity="0.25" transform="rotate(-20 315.4 126.9)"/><ellipse cx="287.1" cy="241.9" rx="8.3" ry="6.7" fill="#fff" opacity="0.2"/><ellipse cx="265.4" cy="250.3" rx="8.3" ry="8.3" fill="#fff" opacity="0.2"/><ellipse cx="46.3" cy="392.8" rx="11.7" ry="11.7" fill="#fff" opacity="0.5"/><ellipse cx="108.8" cy="368.6" rx="10.0" ry="9.2" fill="#fff" opacity="0.4"/><ellipse cx="105.4" cy="391.9" rx="8.3" ry="7.5" fill="#fff" opacity="0.35"/><ellipse cx="82.1" cy="378.6" rx="8.3" ry="6.7" fill="#fff" opacity="0.15"/><ellipse cx="161.3" cy="289.4" rx="8.3" ry="5.8" fill="#fff" opacity="0.28"/><ellipse cx="156.3" cy="308.6" rx="8.3" ry="5.8" fill="#fff" opacity="0.35"/><ellipse cx="203.8" cy="301.9" rx="9.2" ry="11.7" fill="#fff" opacity="0.35"/><ellipse cx="210.4" cy="321.9" rx="5.8" ry="8.3" fill="#fff" opacity="0.55"/><ellipse cx="255.4" cy="291.9" rx="10.0" ry="15.0" fill="#fff" opacity="0.45"/><ellipse cx="258.8" cy="320.3" rx="8.3" ry="10.0" fill="#fff" opacity="0.3"/><ellipse cx="302.1" cy="285.3" rx="8.3" ry="8.3" fill="#fff" opacity="0.85"/><ellipse cx="302.1" cy="311.1" rx="8.3" ry="8.3" fill="#fff" opacity="0.85"/><ellipse cx="268.8" cy="268.6" rx="7.5" ry="6.7" fill="#fff" opacity="0.28"/><ellipse cx="288.8" cy="238.6" rx="8.3" ry="6.7" fill="#fff" opacity="0.22"/><ellipse cx="263.8" cy="248.6" rx="6.7" ry="6.7" fill="#fff" opacity="0.18"/><path d="M148.8,371.9 173.8,358.6 215.4,350.3" fill="none" stroke="#fff" stroke-width="6.7" stroke-linecap="round" stroke-linejoin="round" opacity="0.3"/><path d="M290.4,336.9 332.1,340.3" fill="none" stroke="#fff" stroke-width="6.7" stroke-linecap="round" stroke-linejoin="round" opacity="0.35"/><ellipse cx="133.8" cy="353.6" rx="8.3" ry="5.8" fill="#fff" opacity="0.15"/><ellipse cx="5.4" cy="386.9" rx="10.0" ry="33.3" fill="#fff" opacity="0.4"/><ellipse cx="395.4" cy="215.3" rx="21.7" ry="6.7" fill="#fff" opacity="0.35"/><ellipse cx="395.4" cy="238.6" rx="15.0" ry="5.0" fill="#fff" opacity="0.2"/><ellipse cx="457.1" cy="263.6" rx="11.7" ry="10.0" fill="#fff" opacity="0.28"/><ellipse cx="432.1" cy="253.6" rx="6.7" ry="6.7" fill="#fff" opacity="0.15"/><ellipse cx="478.8" cy="240.3" rx="6.7" ry="6.7" fill="#fff" opacity="0.15"/><ellipse cx="402.1" cy="176.9" rx="10.0" ry="8.3" fill="#fff" opacity="0.15"/><ellipse cx="405.4" cy="143.6" rx="6.7" ry="6.7" fill="#fff" opacity="0.15"/><ellipse cx="457.1" cy="193.6" rx="6.7" ry="6.7" fill="#fff" opacity="0.25"/><ellipse cx="497.9" cy="105.3" rx="7.5" ry="8.3" fill="#fff" opacity="0.45"/><ellipse cx="492.1" cy="138.6" rx="10.0" ry="7.5" fill="#fff" opacity="0.28"/><ellipse cx="518.8" cy="126.9" rx="6.7" ry="6.7" fill="#fff" opacity="0.15"/><ellipse cx="555.4" cy="161.9" rx="6.7" ry="20.0" fill="#fff" opacity="0.5" transform="rotate(-20 555.4 161.9)"/><ellipse cx="562.9" cy="175.3" rx="6.7" ry="11.7" fill="#fff" opacity="0.65" transform="rotate(-25 562.9 175.3)"/><ellipse cx="572.9" cy="210.3" rx="5.0" ry="13.3" fill="#fff" opacity="0.3" transform="rotate(-15 572.9 210.3)"/><ellipse cx="545.4" cy="226.9" rx="11.7" ry="10.0" fill="#fff" opacity="0.3"/><ellipse cx="535.4" cy="238.6" rx="5.0" ry="6.7" fill="#fff" opacity="0.3"/><ellipse cx="458.8" cy="261.9" rx="11.7" ry="9.2" fill="#fff" opacity="0.25"/><ellipse cx="425.4" cy="240.3" rx="8.3" ry="6.7" fill="#fff" opacity="0.12"/><ellipse cx="338.8" cy="300.3" rx="7.5" ry="6.7" fill="#fff" opacity="0.28"/><path d="M335.4,330.3 362.1,322.8 387.1,326.9 403.8,335.3" fill="none" stroke="#fff" stroke-width="10.0" stroke-linecap="round" stroke-linejoin="round" opacity="0.5"/><path d="M405.4,363.6 420.4,386.9 432.1,406.9" fill="none" stroke="#fff" stroke-width="8.3" stroke-linecap="round" stroke-linejoin="round" opacity="0.5"/><ellipse cx="393.8" cy="371.9" rx="4.2" ry="6.7" fill="#fff" opacity="0.45"/><ellipse cx="482.1" cy="373.6" rx="7.5" ry="9.2" fill="#fff" opacity="0.45"/><ellipse cx="477.1" cy="391.9" rx="8.3" ry="6.7" fill="#fff" opacity="0.35"/><ellipse cx="458.8" cy="385.3" rx="5.0" ry="5.0" fill="#fff" opacity="0.35"/><path d="M475.4,413.6 515.4,419.4 547.1,419.4" fill="none" stroke="#fff" stroke-width="8.3" stroke-linecap="round" stroke-linejoin="round" opacity="0.5"/><ellipse cx="542.1" cy="420.3" rx="8.3" ry="5.8" fill="#fff" opacity="0.5"/><ellipse cx="566.3" cy="382.8" rx="7.5" ry="7.5" fill="#fff" opacity="0.5"/><ellipse cx="567.1" cy="406.1" rx="6.7" ry="7.5" fill="#fff" opacity="0.7"/><ellipse cx="542.1" cy="382.8" rx="7.5" ry="6.7" fill="#fff" opacity="0.3"/><ellipse cx="553.8" cy="353.6" rx="8.3" ry="8.3" fill="#fff" opacity="0.4"/><ellipse cx="532.1" cy="354.4" rx="7.5" ry="6.7" fill="#fff" opacity="0.3"/><ellipse cx="523.8" cy="386.1" rx="6.7" ry="6.7" fill="#fff" opacity="0.25"/><ellipse cx="552.1" cy="278.6" rx="8.3" ry="6.7" fill="#fff" opacity="0.4"/><ellipse cx="565.4" cy="263.6" rx="10.0" ry="8.3" fill="#fff" opacity="0.4"/><ellipse cx="643.8" cy="393.6" rx="6.7" ry="7.5" fill="#fff" opacity="0.95"/><ellipse cx="643.8" cy="414.4" rx="6.7" ry="7.5" fill="#fff" opacity="0.7"/><ellipse cx="662.1" cy="436.9" rx="8.3" ry="9.2" fill="#fff" opacity="0.65"/><ellipse cx="663.8" cy="468.6" rx="7.5" ry="7.5" fill="#fff" opacity="0.85"/><ellipse cx="615.4" cy="466.9" rx="8.3" ry="15.0" fill="#fff" opacity="0.75"/><ellipse cx="598.8" cy="346.9" rx="8.3" ry="8.3" fill="#fff" opacity="0.3"/><ellipse cx="635.4" cy="345.3" rx="8.3" ry="10.0" fill="#fff" opacity="0.35"/><ellipse cx="598.8" cy="378.6" rx="10.0" ry="8.3" fill="#fff" opacity="0.25"/><ellipse cx="620.4" cy="330.3" rx="6.7" ry="11.7" fill="#fff" opacity="0.3"/><ellipse cx="618.8" cy="378.6" rx="6.7" ry="6.7" fill="#fff" opacity="0.2"/><ellipse cx="508.8" cy="453.6" rx="6.7" ry="8.3" fill="#fff" opacity="0.3"/><path d="M467.1,456.9 482.1,438.6 498.8,435.3 508.8,456.9 502.1,468.6 490.4,476.9 492.1,496.9 482.1,506.9 472.1,496.9 465.4,476.9Z" fill="#fff" opacity="0.9"/><ellipse cx="440.4" cy="480.3" rx="8.3" ry="8.3" fill="#fff" opacity="0.4"/><ellipse cx="432.1" cy="446.9" rx="8.3" ry="10.0" fill="#fff" opacity="0.3"/><ellipse cx="452.1" cy="438.6" rx="6.7" ry="10.0" fill="#fff" opacity="0.35"/><ellipse cx="520.4" cy="446.9" rx="6.7" ry="10.0" fill="#fff" opacity="0.4"/><ellipse cx="498.8" cy="483.6" rx="8.3" ry="10.0" fill="#fff" opacity="0.3"/><ellipse cx="532.1" cy="503.6" rx="8.3" ry="6.7" fill="#fff" opacity="0.35"/><ellipse cx="540.4" cy="420.3" rx="10.0" ry="6.7" fill="#fff" opacity="0.5"/><ellipse cx="515.4" cy="418.6" rx="8.3" ry="5.0" fill="#fff" opacity="0.4"/><path d="M568.8,521.9 582.1,520.3 592.1,533.6 593.8,551.9 585.4,563.6 573.8,560.3 570.4,543.6Z" fill="#fff" opacity="0.95"/><path d="M520.4,541.9 535.4,548.6 552.1,545.3" fill="none" stroke="#fff" stroke-width="8.3" stroke-linecap="round" stroke-linejoin="round" opacity="0.6"/><ellipse cx="588.8" cy="575.3" rx="8.3" ry="10.0" fill="#fff" opacity="0.5"/><ellipse cx="615.4" cy="460.3" rx="6.7" ry="10.0" fill="#fff" opacity="0.6"/><ellipse cx="612.1" cy="490.3" rx="6.7" ry="6.7" fill="#fff" opacity="0.7"/><ellipse cx="622.1" cy="480.3" rx="8.3" ry="10.0" fill="#fff" opacity="0.3"/><ellipse cx="662.1" cy="466.9" rx="6.7" ry="6.7" fill="#fff" opacity="0.85"/><ellipse cx="662.1" cy="438.6" rx="5.8" ry="6.7" fill="#fff" opacity="0.75"/><ellipse cx="723.8" cy="380.3" rx="10.0" ry="6.7" fill="#fff" opacity="0.7"/><ellipse cx="763.8" cy="385.3" rx="5.0" ry="10.0" fill="#fff" opacity="0.85" transform="rotate(30 763.8 385.3)"/><ellipse cx="752.1" cy="360.3" rx="8.3" ry="10.0" fill="#fff" opacity="0.5"/><path d="M755.4,405.3 772.1,406.9 775.4,415.3 768.8,423.6 753.8,421.9Z" fill="#fff" opacity="0.95"/><path d="M728.8,430.3 730.4,453.6" fill="none" stroke="#fff" stroke-width="8.3" stroke-linecap="round" stroke-linejoin="round" opacity="0.9"/><ellipse cx="875.4" cy="383.6" rx="11.7" ry="9.2" fill="#fff" opacity="0.95"/><ellipse cx="873.8" cy="361.9" rx="10.0" ry="8.3" fill="#fff" opacity="0.85"/><path d="M895.4,383.6 915.4,382.8 932.1,376.9" fill="none" stroke="#fff" stroke-width="6.7" stroke-linecap="round" stroke-linejoin="round" opacity="0.7"/><ellipse cx="965.4" cy="376.9" rx="7.5" ry="13.3" fill="#fff" opacity="0.9"/><ellipse cx="952.1" cy="361.9" rx="10.0" ry="6.7" fill="#fff" opacity="0.5"/><ellipse cx="937.1" cy="445.3" rx="10.0" ry="7.5" fill="#fff" opacity="0.9"/><ellipse cx="955.4" cy="446.9" rx="5.0" ry="10.0" fill="#fff" opacity="0.8"/><ellipse cx="942.1" cy="425.3" rx="8.3" ry="6.7" fill="#fff" opacity="0.5"/><path d="M865.4,453.6 890.4,463.6 915.4,483.6" fill="none" stroke="#fff" stroke-width="21.7" stroke-linecap="round" stroke-linejoin="round" opacity="0.95"/><ellipse cx="820.4" cy="473.6" rx="8.3" ry="7.5" fill="#fff" opacity="0.85"/><ellipse cx="760.4" cy="468.6" rx="10.0" ry="6.7" fill="#fff" opacity="0.5"/><ellipse cx="798.8" cy="385.3" rx="5.0" ry="5.0" fill="#000" opacity="0.5"/><ellipse cx="788.8" cy="411.9" rx="6.7" ry="8.3" fill="#000" opacity="0.3"/><ellipse cx="805.4" cy="370.3" rx="6.7" ry="8.3" fill="#fff" opacity="0.4"/><ellipse cx="915.4" cy="403.6" rx="1.7" ry="1.7" fill="#fff" opacity="0.0"/><ellipse cx="820.4" cy="470.3" rx="7.5" ry="9.2" fill="#fff" opacity="0.85"/><ellipse cx="822.1" cy="488.6" rx="7.5" ry="7.5" fill="#fff" opacity="0.7"/><path d="M762.1,483.6 790.4,481.9 812.1,485.3" fill="none" stroke="#fff" stroke-width="6.7" stroke-linecap="round" stroke-linejoin="round" opacity="0.5"/><ellipse cx="818.8" cy="500.3" rx="10.0" ry="6.7" fill="#fff" opacity="0.6"/><path d="M812.1,516.9 827.1,513.6 832.1,530.3 832.1,555.3 820.4,566.9 810.4,560.3 808.8,536.9Z" fill="#fff" opacity="0.95"/><path d="M865.4,450.3 890.4,453.6 907.1,468.6 920.4,485.3 915.4,491.9 898.8,483.6 895.4,496.9 873.8,491.9 852.1,483.6 858.8,476.9 875.4,468.6Z" fill="#fff" opacity="0.95"/><ellipse cx="932.1" cy="446.9" rx="8.3" ry="6.7" fill="#fff" opacity="0.85" transform="rotate(-30 932.1 446.9)"/><ellipse cx="955.4" cy="446.9" rx="4.2" ry="8.3" fill="#fff" opacity="0.7"/><ellipse cx="930.4" cy="530.3" rx="6.7" ry="8.3" fill="#fff" opacity="0.9"/><path d="M918.8,485.3 932.1,506.9 932.1,533.6" fill="none" stroke="#fff" stroke-width="10.0" stroke-linecap="round" stroke-linejoin="round" opacity="0.6"/><ellipse cx="738.8" cy="503.6" rx="5.8" ry="5.8" fill="#fff" opacity="0.6"/><ellipse cx="690.4" cy="506.9" rx="8.3" ry="8.3" fill="#fff" opacity="0.55"/><ellipse cx="765.4" cy="463.6" rx="8.3" ry="6.7" fill="#fff" opacity="0.3"/><ellipse cx="880.4" cy="516.9" rx="10.0" ry="5.0" fill="#fff" opacity="0.4"/><ellipse cx="775.4" cy="520.3" rx="11.7" ry="8.3" fill="#fff" opacity="0.2"/><ellipse cx="798.8" cy="451.9" rx="13.3" ry="6.7" fill="#fff" opacity="0.15"/><ellipse cx="948.8" cy="480.3" rx="5.0" ry="16.7" fill="#fff" opacity="0.3"/></g><g filter="url(#b2)"><ellipse cx="302.9" cy="158.6" rx="3.7" ry="6.7" fill="#fff" opacity="0.8"/><ellipse cx="272.1" cy="166.9" rx="5.0" ry="8.3" fill="#fff" opacity="0.75" transform="rotate(30 272.1 166.9)"/><ellipse cx="264.6" cy="181.9" rx="3.0" ry="8.3" fill="#fff" opacity="0.9" transform="rotate(10 264.6 181.9)"/><ellipse cx="284.6" cy="167.8" rx="2.5" ry="2.5" fill="#fff" opacity="0.7"/><ellipse cx="46.3" cy="392.8" rx="5.8" ry="5.8" fill="#fff" opacity="0.75"/><ellipse cx="1.3" cy="367.8" rx="2.5" ry="5.0" fill="#fff" opacity="0.9"/><ellipse cx="339.6" cy="100.3" rx="3.7" ry="7.5" fill="#fff" opacity="0.5" transform="rotate(-20 339.6 100.3)"/><ellipse cx="332.1" cy="122.8" rx="2.5" ry="5.0" fill="#fff" opacity="0.45"/><ellipse cx="322.1" cy="126.9" rx="6.7" ry="4.2" fill="#fff" opacity="0.35" transform="rotate(-30 322.1 126.9)"/><ellipse cx="405.4" cy="218.3" rx="8.3" ry="3.7" fill="#fff" opacity="0.5"/><path d="M365.4,321.9 388.8,327.8" fill="none" stroke="#fff" stroke-width="4.2" stroke-linecap="round" stroke-linejoin="round" opacity="0.35"/><ellipse cx="537.1" cy="281.9" rx="3.3" ry="5.0" fill="#fff" opacity="0.95"/><ellipse cx="640.4" cy="325.3" rx="2.0" ry="2.0" fill="#fff" opacity="0.9"/><path d="M760.4,345.3 762.1,358.6 765.4,368.6" fill="none" stroke="#fff" stroke-width="8.3" stroke-linecap="round" stroke-linejoin="round" opacity="0.95"/><ellipse cx="702.1" cy="323.6" rx="2.5" ry="4.2" fill="#fff" opacity="0.9"/><ellipse cx="755.4" cy="325.3" rx="4.2" ry="5.0" fill="#fff" opacity="0.5"/><ellipse cx="732.1" cy="460.3" rx="1.7" ry="1.7" fill="#fff" opacity="0.0"/><ellipse cx="723.8" cy="528.6" rx="4.2" ry="3.3" fill="#fff" opacity="0.7"/></g>
</g></g>
<use href="#isl"/>
<use href="#flat"/>
<rect x="40.4" y="471.9" width="314.3" height="108.6" fill="#fff"/><text x="65.7" y="547.2" font-size="59" textLength="258.1" lengthAdjust="spacingAndGlyphs" fill="#000">February</text><text x="25.1" y="76.5" font-size="60" textLength="78.1" lengthAdjust="spacingAndGlyphs" fill="#000">(A)</text>
</g>
<rect x="-0.4" y="-0.2" width="987.8" height="612.1" fill="none" stroke="#1c1c1c" stroke-width="1.1"/>
<use href="#ticks"/><use href="#cbar"/>
<text x="377.6" y="-58.8" font-size="47.5" textLength="225.5" lengthAdjust="spacingAndGlyphs" fill="#000">Longitude</text><text transform="translate(-79.3,396.9) rotate(-90)" font-size="47.5" textLength="186.0" lengthAdjust="spacingAndGlyphs" fill="#000">Latitude</text><g transform="translate(771.5,701.1) scale(1.022,1)"><text x="-3" y="0" font-size="46" fill="#000">(Js</text><text x="60.5" y="-17" font-size="29" fill="#000">-1</text><text x="87" y="0" font-size="46" fill="#000">m</text><text x="126" y="-17" font-size="29" fill="#000">-1</text><text x="152.5" y="0" font-size="46" fill="#000">)</text></g><text class="cb" x="276.3" y="700.0" font-size="46" textLength="117.0" lengthAdjust="spacing">Mean</text><text class="cb" x="418.9" y="700.0" font-size="46" textLength="91.1" lengthAdjust="spacing">flow</text><text class="cb" x="534.6" y="700.0" font-size="46" textLength="99.1" lengthAdjust="spacing">heat</text><text class="cb" x="660.7" y="700.0" font-size="46" textLength="80.8" lengthAdjust="spacing">flux</text>
</g>
<g transform="translate(1445.2,107.1)">
<use href="#frame"/>
<rect x="0" y="0" width="987.0" height="611.5" fill="#b6b6b6"/>
<g clip-path="url(#mapclip)">
<g mask="url(#sea)"><g filter="url(#cmapB)">
<rect x="0" y="0" width="987.0" height="611.5" fill="#000"/>
<rect x="0" y="0" width="987" height="612" fill="#fff" opacity="0.05"/>
<g filter="url(#b12)"><path d="M150.0,330.0 300.0,200.0 480.0,170.0 560.0,280.0 560.0,420.0 400.0,430.0 200.0,460.0Z" fill="#fff" opacity="0.08"/><path d="M400.0,350.0 480.0,330.0 560.0,420.0 640.0,480.0 700.0,480.0 720.0,560.0 640.0,600.0 560.0,560.0 460.0,500.0 400.0,420.0Z" fill="#fff" opacity="0.2"/><path d="M700.0,400.0 800.0,420.0 900.0,400.0 990.0,380.0 990.0,560.0 900.0,580.0 780.0,560.0 700.0,520.0Z" fill="#fff" opacity="0.12"/><ellipse cx="287.7" cy="273.9" rx="31.0" ry="57.1" fill="#fff" opacity="0.22"/><ellipse cx="423.4" cy="369.1" rx="31.0" ry="23.8" fill="#fff" opacity="0.12"/><path d="M494.8,392.9 530.5,388.1 556.7,411.9 566.2,483.4 542.4,519.1 494.8,507.2Z" fill="#fff" opacity="0.1"/></g><g filter="url(#b7)"><ellipse cx="209.1" cy="190.5" rx="16.7" ry="14.3" fill="#fff" opacity="0.25"/><ellipse cx="290.0" cy="254.8" rx="16.7" ry="26.2" fill="#fff" opacity="0.15"/><ellipse cx="223.4" cy="278.6" rx="14.3" ry="14.3" fill="#fff" opacity="0.22"/><ellipse cx="173.4" cy="300.0" rx="14.3" ry="11.9" fill="#fff" opacity="0.25"/><path d="M151.9,321.5 180.5,328.6 204.3,345.3" fill="none" stroke="#fff" stroke-width="16.7" stroke-linecap="round" stroke-linejoin="round" opacity="0.35"/><ellipse cx="397.2" cy="259.6" rx="14.3" ry="14.3" fill="#fff" opacity="0.22"/><ellipse cx="399.6" cy="226.2" rx="11.9" ry="11.9" fill="#fff" opacity="0.12"/><ellipse cx="271.0" cy="150.0" rx="14.3" ry="9.5" fill="#fff" opacity="0.12"/><ellipse cx="316.2" cy="183.4" rx="11.9" ry="9.5" fill="#fff" opacity="0.12"/><ellipse cx="316.2" cy="209.6" rx="11.9" ry="9.5" fill="#fff" opacity="0.12"/><ellipse cx="351.9" cy="338.1" rx="19.0" ry="14.3" fill="#fff" opacity="0.1"/><path d="M30.5,366.7 66.2,354.8 118.6,357.2 128.1,373.9 109.1,407.2 49.6,409.6 30.5,392.9Z" fill="#fff" opacity="0.28"/><ellipse cx="399.6" cy="454.8" rx="19.0" ry="23.8" fill="#fff" opacity="0.22"/><ellipse cx="447.2" cy="411.9" rx="28.6" ry="35.7" fill="#fff" opacity="0.08"/><ellipse cx="482.9" cy="459.6" rx="19.0" ry="35.7" fill="#fff" opacity="0.1"/><ellipse cx="566.2" cy="269.1" rx="11.9" ry="10.7" fill="#fff" opacity="0.3"/><ellipse cx="559.1" cy="338.1" rx="14.3" ry="19.0" fill="#fff" opacity="0.15"/><ellipse cx="549.6" cy="150.0" rx="14.3" ry="11.9" fill="#fff" opacity="0.08"/><ellipse cx="649.6" cy="383.4" rx="14.3" ry="9.5" fill="#fff" opacity="0.15"/><ellipse cx="732.9" cy="211.9" rx="14.3" ry="11.9" fill="#fff" opacity="0.1"/><ellipse cx="578.1" cy="447.7" rx="14.3" ry="28.6" fill="#fff" opacity="0.2"/><ellipse cx="649.6" cy="388.1" rx="16.7" ry="14.3" fill="#fff" opacity="0.2"/><ellipse cx="647.2" cy="454.8" rx="11.9" ry="11.9" fill="#fff" opacity="0.25"/><ellipse cx="804.3" cy="495.3" rx="26.2" ry="40.5" fill="#fff" opacity="0.4"/><ellipse cx="851.9" cy="519.1" rx="19.0" ry="11.9" fill="#fff" opacity="0.2"/><ellipse cx="756.7" cy="495.3" rx="11.9" ry="11.9" fill="#fff" opacity="0.15"/><ellipse cx="709.1" cy="507.2" rx="11.9" ry="11.9" fill="#fff" opacity="0.12"/><ellipse cx="863.8" cy="392.9" rx="28.6" ry="19.0" fill="#000" opacity="0.12"/><ellipse cx="828.1" cy="376.2" rx="14.3" ry="11.9" fill="#fff" opacity="0.1"/></g><g filter="url(#b4)"><ellipse cx="207.9" cy="189.3" rx="8.3" ry="8.3" fill="#fff" opacity="0.35"/><ellipse cx="211.5" cy="216.7" rx="9.5" ry="9.5" fill="#fff" opacity="0.28"/><ellipse cx="304.3" cy="300.0" rx="13.1" ry="16.7" fill="#fff" opacity="0.25"/><ellipse cx="306.7" cy="328.6" rx="8.3" ry="10.7" fill="#fff" opacity="0.4"/><ellipse cx="232.9" cy="300.0" rx="11.9" ry="11.9" fill="#fff" opacity="0.2"/><ellipse cx="175.8" cy="326.2" rx="14.3" ry="8.3" fill="#fff" opacity="0.3"/><ellipse cx="204.3" cy="345.3" rx="9.5" ry="7.1" fill="#fff" opacity="0.4"/><ellipse cx="399.6" cy="169.1" rx="19.0" ry="7.1" fill="#fff" opacity="0.1"/><ellipse cx="423.4" cy="190.5" rx="19.0" ry="9.5" fill="#fff" opacity="0.1"/><ellipse cx="106.7" cy="364.3" rx="13.1" ry="6.0" fill="#fff" opacity="0.35"/><ellipse cx="103.1" cy="386.9" rx="10.7" ry="7.1" fill="#fff" opacity="0.35"/><ellipse cx="47.2" cy="388.1" rx="9.5" ry="14.3" fill="#fff" opacity="0.3"/><ellipse cx="49.6" cy="404.8" rx="9.5" ry="7.1" fill="#fff" opacity="0.3"/><ellipse cx="9.1" cy="383.4" rx="9.5" ry="19.0" fill="#fff" opacity="0.3"/><ellipse cx="304.3" cy="328.6" rx="10.7" ry="11.9" fill="#fff" opacity="0.2"/><ellipse cx="394.8" cy="445.3" rx="8.3" ry="9.5" fill="#fff" opacity="0.55"/><ellipse cx="410.3" cy="469.1" rx="6.0" ry="9.5" fill="#fff" opacity="0.55"/><ellipse cx="701.9" cy="359.6" rx="11.9" ry="9.5" fill="#fff" opacity="0.2"/><ellipse cx="561.5" cy="521.5" rx="10.7" ry="10.7" fill="#fff" opacity="0.35"/><ellipse cx="692.4" cy="459.6" rx="10.7" ry="10.7" fill="#fff" opacity="0.3"/><ellipse cx="751.9" cy="440.5" rx="8.3" ry="9.5" fill="#fff" opacity="0.4"/><ellipse cx="787.7" cy="438.1" rx="8.3" ry="8.3" fill="#fff" opacity="0.3"/><ellipse cx="809.1" cy="469.1" rx="11.9" ry="8.3" fill="#fff" opacity="0.5" transform="rotate(30 809.1 469.1)"/><ellipse cx="797.2" cy="514.3" rx="14.3" ry="10.7" fill="#fff" opacity="0.5"/><ellipse cx="811.5" cy="490.5" rx="4.8" ry="11.9" fill="#000" opacity="0.2"/><ellipse cx="921.0" cy="495.3" rx="11.9" ry="14.3" fill="#fff" opacity="0.4"/><ellipse cx="956.7" cy="426.2" rx="10.7" ry="26.2" fill="#fff" opacity="0.5"/><ellipse cx="957.9" cy="419.1" rx="7.1" ry="9.5" fill="#fff" opacity="0.4"/><ellipse cx="959.1" cy="447.7" rx="6.0" ry="9.5" fill="#fff" opacity="0.3"/><ellipse cx="966.2" cy="371.5" rx="7.1" ry="11.9" fill="#fff" opacity="0.4"/><path d="M728.1,542.9 756.7,545.3" fill="none" stroke="#fff" stroke-width="9.5" stroke-linecap="round" stroke-linejoin="round" opacity="0.3"/><path d="M847.2,540.5 875.8,542.9 904.3,550.0" fill="none" stroke="#fff" stroke-width="9.5" stroke-linecap="round" stroke-linejoin="round" opacity="0.4"/></g><g filter="url(#b2)"><ellipse cx="76.9" cy="383.4" rx="4.3" ry="4.3" fill="#000" opacity="0.4"/><ellipse cx="973.8" cy="355.3" rx="2.9" ry="6.0" fill="#fff" opacity="0.85" transform="rotate(30 973.8 355.3)"/></g>
</g></g>
<use href="#isl"/>
<use href="#flat"/>
<rect x="28.8" y="476.9" width="258.1" height="108.4" fill="#fff"/><text x="55.5" y="552.4" font-size="59" textLength="199.3" lengthAdjust="spacingAndGlyphs" fill="#000">August</text><text x="14.0" y="69.6" font-size="60" textLength="80.6" lengthAdjust="spacingAndGlyphs" fill="#000">(B)</text>
</g>
<rect x="-0.4" y="-0.2" width="987.8" height="612.1" fill="none" stroke="#1c1c1c" stroke-width="1.1"/>
<use href="#ticks"/><use href="#cbar"/>
<text x="378.6" y="-59.9" font-size="47.5" textLength="224.8" lengthAdjust="spacingAndGlyphs" fill="#000">Longitude</text><text transform="translate(-73.1,360.9) rotate(-90)" font-size="47.5" textLength="186.0" lengthAdjust="spacingAndGlyphs" fill="#000">Latitude</text><g transform="translate(773.8,704.8) scale(1.021,1)"><text x="-3" y="0" font-size="46" fill="#000">(Js</text><text x="60.5" y="-17" font-size="29" fill="#000">-1</text><text x="87" y="0" font-size="46" fill="#000">m</text><text x="126" y="-17" font-size="29" fill="#000">-1</text><text x="152.5" y="0" font-size="46" fill="#000">)</text></g><text class="cb" x="276.3" y="700.0" font-size="46" textLength="117.0" lengthAdjust="spacing">Mean</text><text class="cb" x="418.9" y="700.0" font-size="46" textLength="91.1" lengthAdjust="spacing">flow</text><text class="cb" x="534.6" y="700.0" font-size="46" textLength="99.1" lengthAdjust="spacing">heat</text><text class="cb" x="660.7" y="700.0" font-size="46" textLength="80.8" lengthAdjust="spacing">flux</text>
</g>
<g transform="translate(136.2,1093.3)">
<use href="#frame"/>
<rect x="0" y="0" width="987.0" height="611.5" fill="#b6b6b6"/>
<g clip-path="url(#mapclip)">
<g mask="url(#sea)"><g filter="url(#cmapC)">
<rect x="0" y="0" width="987.0" height="611.5" fill="#000"/>
<rect x="0" y="0" width="987" height="612" fill="#fff" opacity="0.05"/>
<g filter="url(#b12)"><path d="M150.0,330.0 300.0,200.0 480.0,170.0 560.0,280.0 560.0,420.0 400.0,430.0 200.0,460.0Z" fill="#fff" opacity="0.08"/><path d="M400.0,350.0 480.0,330.0 560.0,420.0 640.0,480.0 700.0,480.0 720.0,560.0 640.0,600.0 560.0,560.0 460.0,500.0 400.0,420.0Z" fill="#fff" opacity="0.15"/><path d="M520.0,300.0 620.0,260.0 700.0,330.0 720.0,480.0 640.0,480.0 560.0,420.0Z" fill="#fff" opacity="0.12"/><path d="M700.0,380.0 800.0,400.0 900.0,380.0 990.0,380.0 990.0,560.0 900.0,580.0 780.0,560.0 700.0,520.0Z" fill="#fff" opacity="0.15"/></g><g filter="url(#b7)"><path d="M29.5,368.1 65.2,353.8 127.1,358.6 136.7,377.7 112.8,396.7 41.4,406.2 27.1,389.6Z" fill="#fff" opacity="0.25"/><ellipse cx="350.9" cy="87.2" rx="14.3" ry="14.3" fill="#fff" opacity="0.15"/><ellipse cx="160.5" cy="246.7" rx="14.3" ry="14.3" fill="#fff" opacity="0.12"/><ellipse cx="562.8" cy="172.9" rx="26.2" ry="57.1" fill="#fff" opacity="0.15" transform="rotate(-22 562.8 172.9)"/><ellipse cx="446.2" cy="375.3" rx="23.8" ry="31.0" fill="#fff" opacity="0.15"/><ellipse cx="398.6" cy="451.5" rx="14.3" ry="19.0" fill="#000" opacity="0.3"/><ellipse cx="839.0" cy="403.8" rx="19.0" ry="14.3" fill="#fff" opacity="0.15"/><ellipse cx="910.5" cy="415.7" rx="14.3" ry="9.5" fill="#000" opacity="0.15"/><ellipse cx="898.6" cy="546.7" rx="23.8" ry="9.5" fill="#000" opacity="0.3"/></g><g filter="url(#b4)"><ellipse cx="303.3" cy="299.1" rx="23.8" ry="27.4" fill="#fff" opacity="0.4"/><ellipse cx="208.1" cy="311.0" rx="23.8" ry="26.2" fill="#fff" opacity="0.45"/><ellipse cx="255.7" cy="303.8" rx="16.7" ry="29.8" fill="#fff" opacity="0.35"/><ellipse cx="158.1" cy="296.7" rx="15.5" ry="15.5" fill="#fff" opacity="0.25"/><ellipse cx="270.0" cy="261.0" rx="9.5" ry="16.7" fill="#fff" opacity="0.45"/><ellipse cx="400.9" cy="216.9" rx="16.7" ry="6.0" fill="#fff" opacity="0.5"/><ellipse cx="110.5" cy="377.7" rx="17.9" ry="15.5" fill="#fff" opacity="0.35"/><ellipse cx="48.6" cy="387.2" rx="9.5" ry="10.7" fill="#fff" opacity="0.7"/><ellipse cx="72.4" cy="389.6" rx="6.0" ry="8.3" fill="#fff" opacity="0.55"/><ellipse cx="296.2" cy="151.5" rx="11.9" ry="8.3" fill="#fff" opacity="0.35"/><ellipse cx="241.4" cy="127.7" rx="9.5" ry="7.1" fill="#fff" opacity="0.2"/><ellipse cx="291.4" cy="234.8" rx="14.3" ry="11.9" fill="#fff" opacity="0.2"/><ellipse cx="315.2" cy="211.0" rx="11.9" ry="14.3" fill="#fff" opacity="0.15"/><ellipse cx="343.8" cy="330.0" rx="9.5" ry="9.5" fill="#fff" opacity="0.3"/><ellipse cx="561.7" cy="177.7" rx="19.0" ry="50.0" fill="none" stroke="#fff" stroke-width="10.7" opacity="0.3" transform="rotate(-22 561.7 177.7)"/><ellipse cx="500.9" cy="111.0" rx="14.3" ry="19.0" fill="#fff" opacity="0.4"/><ellipse cx="581.9" cy="222.9" rx="7.1" ry="14.3" fill="#fff" opacity="0.35"/><ellipse cx="610.5" cy="277.7" rx="7.1" ry="14.3" fill="#fff" opacity="0.7"/><path d="M589.0,239.6 610.5,277.7 627.1,318.1 641.4,353.8 655.7,387.2" fill="none" stroke="#fff" stroke-width="13.1" stroke-linecap="round" stroke-linejoin="round" opacity="0.5"/><ellipse cx="565.2" cy="261.0" rx="14.3" ry="9.5" fill="#fff" opacity="0.35"/><ellipse cx="548.6" cy="234.8" rx="11.9" ry="9.5" fill="#fff" opacity="0.25"/><ellipse cx="722.4" cy="263.4" rx="8.3" ry="19.0" fill="#fff" opacity="0.3" transform="rotate(-20 722.4 263.4)"/><ellipse cx="731.9" cy="244.3" rx="7.1" ry="7.1" fill="#fff" opacity="0.2"/><ellipse cx="748.6" cy="330.0" rx="9.5" ry="8.3" fill="#fff" opacity="0.5"/><ellipse cx="431.9" cy="363.4" rx="7.1" ry="14.3" fill="#fff" opacity="0.45"/><ellipse cx="455.7" cy="387.2" rx="6.0" ry="11.9" fill="#fff" opacity="0.4"/><ellipse cx="481.9" cy="477.7" rx="9.5" ry="16.7" fill="#fff" opacity="0.8" transform="rotate(-30 481.9 477.7)"/><ellipse cx="465.2" cy="463.4" rx="14.3" ry="19.0" fill="#fff" opacity="0.4"/><ellipse cx="434.3" cy="463.4" rx="9.5" ry="9.5" fill="#fff" opacity="0.25"/><ellipse cx="434.3" cy="325.3" rx="19.0" ry="14.3" fill="#000" opacity="0.15"/><ellipse cx="581.9" cy="537.2" rx="20.2" ry="22.6" fill="#fff" opacity="0.45"/><path d="M522.4,537.2 546.2,544.3 565.2,544.3" fill="none" stroke="#fff" stroke-width="14.3" stroke-linecap="round" stroke-linejoin="round" opacity="0.8"/><ellipse cx="643.8" cy="405.0" rx="14.3" ry="20.2" fill="#fff" opacity="0.4"/><ellipse cx="661.7" cy="458.6" rx="21.4" ry="22.6" fill="#fff" opacity="0.45"/><ellipse cx="617.6" cy="477.7" rx="11.9" ry="23.8" fill="#fff" opacity="0.3" transform="rotate(15 617.6 477.7)"/><ellipse cx="729.5" cy="439.6" rx="14.3" ry="21.4" fill="#fff" opacity="0.95"/><path d="M739.0,425.3 755.7,408.6 767.6,380.0 762.8,349.1" fill="none" stroke="#fff" stroke-width="14.3" stroke-linecap="round" stroke-linejoin="round" opacity="0.95"/><ellipse cx="820.0" cy="541.9" rx="20.2" ry="25.0" fill="#fff" opacity="0.45"/><path d="M848.6,461.0 874.8,451.5 900.9,468.1 912.8,489.6" fill="none" stroke="#fff" stroke-width="16.7" stroke-linecap="round" stroke-linejoin="round" opacity="0.95"/><ellipse cx="879.5" cy="484.8" rx="19.0" ry="11.9" fill="#fff" opacity="0.95" transform="rotate(15 879.5 484.8)"/><ellipse cx="853.3" cy="482.4" rx="9.5" ry="7.1" fill="#fff" opacity="0.6"/><ellipse cx="929.5" cy="518.1" rx="13.1" ry="20.2" fill="#fff" opacity="0.4" transform="rotate(-10 929.5 518.1)"/><ellipse cx="874.8" cy="372.9" rx="19.0" ry="20.2" fill="#fff" opacity="0.45"/><path d="M896.2,382.4 922.4,381.2 946.2,375.3 965.2,368.1" fill="none" stroke="#fff" stroke-width="10.7" stroke-linecap="round" stroke-linejoin="round" opacity="0.7"/><ellipse cx="965.2" cy="375.3" rx="7.1" ry="9.5" fill="#fff" opacity="0.6"/><ellipse cx="817.6" cy="468.1" rx="7.1" ry="7.1" fill="#fff" opacity="0.8"/><ellipse cx="812.8" cy="487.2" rx="8.3" ry="8.3" fill="#fff" opacity="0.8"/><path d="M760.5,463.4 779.5,480.0 812.8,484.8" fill="none" stroke="#fff" stroke-width="9.5" stroke-linecap="round" stroke-linejoin="round" opacity="0.55"/><ellipse cx="939.0" cy="444.3" rx="9.5" ry="14.3" fill="#fff" opacity="0.65"/><ellipse cx="560.5" cy="391.9" rx="14.3" ry="16.7" fill="#fff" opacity="0.25"/><path d="M517.6,425.3 546.2,418.1" fill="none" stroke="#fff" stroke-width="9.5" stroke-linecap="round" stroke-linejoin="round" opacity="0.5"/><ellipse cx="505.7" cy="468.1" rx="11.9" ry="19.0" fill="#fff" opacity="0.6"/><ellipse cx="500.9" cy="439.6" rx="9.5" ry="9.5" fill="#fff" opacity="0.4"/><ellipse cx="636.7" cy="339.6" rx="7.1" ry="11.9" fill="#fff" opacity="0.5"/><ellipse cx="698.6" cy="506.2" rx="9.5" ry="11.9" fill="#fff" opacity="0.5"/><ellipse cx="722.4" cy="380.0" rx="14.3" ry="7.1" fill="#fff" opacity="0.6"/><ellipse cx="753.3" cy="375.3" rx="11.9" ry="9.5" fill="#fff" opacity="0.5"/><ellipse cx="791.4" cy="444.3" rx="9.5" ry="19.0" fill="#fff" opacity="0.35"/><ellipse cx="529.5" cy="499.1" rx="11.9" ry="14.3" fill="#fff" opacity="0.4"/><ellipse cx="593.8" cy="503.8" rx="7.1" ry="14.3" fill="#fff" opacity="0.5"/><ellipse cx="572.4" cy="356.2" rx="9.5" ry="11.9" fill="#fff" opacity="0.35"/><ellipse cx="529.5" cy="368.1" rx="14.3" ry="14.3" fill="#fff" opacity="0.3"/><ellipse cx="684.3" cy="477.7" rx="9.5" ry="14.3" fill="#fff" opacity="0.2"/><ellipse cx="850.9" cy="522.9" rx="9.5" ry="7.1" fill="#fff" opacity="0.35"/><ellipse cx="886.7" cy="511.0" rx="14.3" ry="7.1" fill="#fff" opacity="0.4"/></g><g filter="url(#b2)"><ellipse cx="303.3" cy="299.1" rx="13.8" ry="16.7" fill="none" stroke="#fff" stroke-width="14.8" opacity="0.9"/><ellipse cx="303.3" cy="299.1" rx="6.1" ry="8.8" fill="#000" opacity="0.75"/><ellipse cx="208.1" cy="311.0" rx="13.1" ry="14.3" fill="none" stroke="#fff" stroke-width="14.3" opacity="0.5"/><ellipse cx="208.1" cy="311.0" rx="5.7" ry="6.8" fill="#000" opacity="0.425"/><ellipse cx="195.0" cy="303.8" rx="6.0" ry="9.5" fill="#fff" opacity="0.4"/><ellipse cx="222.4" cy="306.2" rx="6.0" ry="9.5" fill="#fff" opacity="0.4"/><ellipse cx="255.7" cy="303.8" rx="9.5" ry="20.2" fill="none" stroke="#fff" stroke-width="9.5" opacity="0.35"/><ellipse cx="255.7" cy="303.8" rx="4.5" ry="14.7" fill="#000" opacity="0.2975"/><ellipse cx="158.1" cy="296.7" rx="9.5" ry="9.5" fill="none" stroke="#fff" stroke-width="8.3" opacity="0.25"/><ellipse cx="158.1" cy="296.7" rx="5.1" ry="5.1" fill="#000" opacity="0.2125"/><ellipse cx="460.5" cy="253.8" rx="11.9" ry="11.9" fill="none" stroke="#fff" stroke-width="9.5" opacity="0.3"/><ellipse cx="460.5" cy="253.8" rx="6.8" ry="6.8" fill="#000" opacity="0.255"/><ellipse cx="398.6" cy="225.3" rx="19.0" ry="14.3" fill="none" stroke="#fff" stroke-width="7.1" opacity="0.2"/><ellipse cx="398.6" cy="225.3" rx="14.7" ry="10.2" fill="#000" opacity="0.17"/><ellipse cx="110.5" cy="380.0" rx="9.5" ry="8.3" fill="none" stroke="#fff" stroke-width="8.3" opacity="0.3"/><ellipse cx="110.5" cy="380.0" rx="5.1" ry="4.0" fill="#000" opacity="0.255"/><ellipse cx="290.2" cy="147.9" rx="4.3" ry="3.3" fill="#fff" opacity="0.4"/><ellipse cx="265.2" cy="187.2" rx="1.9" ry="5.2" fill="#fff" opacity="0.7"/><ellipse cx="408.1" cy="149.1" rx="3.6" ry="6.0" fill="#fff" opacity="0.5"/><ellipse cx="372.4" cy="120.5" rx="2.9" ry="6.0" fill="#fff" opacity="0.5"/><ellipse cx="362.8" cy="265.7" rx="2.4" ry="3.3" fill="#fff" opacity="0.9"/><ellipse cx="5.7" cy="52.7" rx="1.9" ry="5.2" fill="#fff" opacity="0.6"/><ellipse cx="561.7" cy="177.7" rx="13.0" ry="42.4" fill="#000" opacity="0.255" transform="rotate(-22 561.7 177.7)"/><ellipse cx="548.6" cy="141.9" rx="6.0" ry="4.3" fill="#fff" opacity="0.3"/><ellipse cx="536.7" cy="281.2" rx="4.8" ry="7.1" fill="#fff" opacity="0.95"/><ellipse cx="634.3" cy="339.6" rx="5.2" ry="8.3" fill="#fff" opacity="0.6"/><ellipse cx="756.9" cy="274.1" rx="2.9" ry="2.9" fill="#fff" opacity="0.85"/><ellipse cx="703.3" cy="324.1" rx="2.4" ry="4.8" fill="#fff" opacity="0.9"/><ellipse cx="712.8" cy="313.4" rx="4.8" ry="4.8" fill="#fff" opacity="0.5"/><ellipse cx="767.6" cy="308.6" rx="4.8" ry="2.4" fill="#fff" opacity="0.6"/><ellipse cx="581.9" cy="537.2" rx="11.9" ry="13.1" fill="none" stroke="#fff" stroke-width="13.1" opacity="0.9"/><ellipse cx="581.9" cy="537.2" rx="5.1" ry="6.2" fill="#000" opacity="0.75"/><ellipse cx="643.8" cy="405.0" rx="8.3" ry="13.1" fill="none" stroke="#fff" stroke-width="9.5" opacity="0.7"/><ellipse cx="643.8" cy="405.0" rx="3.4" ry="7.9" fill="#000" opacity="0.595"/><ellipse cx="661.7" cy="458.6" rx="11.9" ry="13.1" fill="none" stroke="#fff" stroke-width="13.1" opacity="0.75"/><ellipse cx="661.7" cy="458.6" rx="5.1" ry="6.2" fill="#000" opacity="0.6375"/><ellipse cx="617.6" cy="477.7" rx="8.3" ry="21.4" fill="none" stroke="#fff" stroke-width="8.3" opacity="0.55" transform="rotate(15 617.6 477.7)"/><ellipse cx="617.6" cy="477.7" rx="4.0" ry="16.4" fill="#000" opacity="0.4675" transform="rotate(15 617.6 477.7)"/><ellipse cx="730.7" cy="439.6" rx="1.9" ry="4.3" fill="#000" opacity="0.8"/><ellipse cx="767.6" cy="437.2" rx="10.7" ry="23.8" fill="none" stroke="#fff" stroke-width="8.3" opacity="0.6" transform="rotate(10 767.6 437.2)"/><ellipse cx="767.6" cy="437.2" rx="6.2" ry="18.7" fill="#000" opacity="0.51" transform="rotate(10 767.6 437.2)"/><ellipse cx="820.0" cy="539.6" rx="12.4" ry="14.8" fill="none" stroke="#fff" stroke-width="13.8" opacity="0.9"/><ellipse cx="820.0" cy="539.6" rx="5.2" ry="7.5" fill="#000" opacity="0.75"/><ellipse cx="929.5" cy="518.1" rx="8.3" ry="15.5" fill="none" stroke="#fff" stroke-width="9.5" opacity="0.8" transform="rotate(-10 929.5 518.1)"/><ellipse cx="929.5" cy="518.1" rx="3.4" ry="10.2" fill="#000" opacity="0.68" transform="rotate(-10 929.5 518.1)"/><ellipse cx="874.8" cy="372.9" rx="10.7" ry="11.9" fill="none" stroke="#fff" stroke-width="13.1" opacity="0.9"/><ellipse cx="874.8" cy="372.9" rx="4.0" ry="5.1" fill="#000" opacity="0.75"/><ellipse cx="958.1" cy="449.1" rx="3.6" ry="11.9" fill="#fff" opacity="0.5" transform="rotate(-20 958.1 449.1)"/><ellipse cx="560.5" cy="391.9" rx="9.5" ry="11.9" fill="none" stroke="#fff" stroke-width="8.3" opacity="0.5"/><ellipse cx="560.5" cy="391.9" rx="5.1" ry="7.4" fill="#000" opacity="0.425"/><ellipse cx="734.3" cy="487.2" rx="6.0" ry="16.7" fill="none" stroke="#fff" stroke-width="6.0" opacity="0.4" transform="rotate(-10 734.3 487.2)"/><ellipse cx="734.3" cy="487.2" rx="2.8" ry="13.0" fill="#000" opacity="0.34" transform="rotate(-10 734.3 487.2)"/><ellipse cx="770.0" cy="518.1" rx="14.3" ry="9.5" fill="none" stroke="#fff" stroke-width="6.0" opacity="0.25"/><ellipse cx="770.0" cy="518.1" rx="10.7" ry="6.2" fill="#000" opacity="0.2125"/><ellipse cx="703.3" cy="321.7" rx="2.4" ry="4.3" fill="#fff" opacity="0.9"/><ellipse cx="722.4" cy="525.3" rx="3.6" ry="2.9" fill="#fff" opacity="0.8"/><ellipse cx="777.1" cy="549.1" rx="2.9" ry="2.4" fill="#fff" opacity="0.8"/></g>
</g></g>
<use href="#isl"/>
<use href="#flat"/>
<rect x="46.7" y="452.7" width="313.8" height="107.8" fill="#fff"/><text x="71.4" y="528.8" font-size="59" textLength="258.1" lengthAdjust="spacingAndGlyphs" fill="#000">February</text><text x="14.4" y="74.1" font-size="60" textLength="87.4" lengthAdjust="spacingAndGlyphs" fill="#000">(C)</text>
</g>
<rect x="-0.4" y="-0.2" width="987.8" height="612.1" fill="none" stroke="#1c1c1c" stroke-width="1.1"/>
<use href="#ticks"/><use href="#cbar"/>
<text x="362.9" y="-56.9" font-size="47.5" textLength="225.7" lengthAdjust="spacingAndGlyphs" fill="#000">Longitude</text><text transform="translate(-97.6,406.1) rotate(-90)" font-size="47.5" textLength="186.0" lengthAdjust="spacingAndGlyphs" fill="#000">Latitude</text><g transform="translate(698.3,700.1) scale(1.028,1)"><text x="-3" y="0" font-size="46" fill="#000">(Js</text><text x="60.5" y="-17" font-size="29" fill="#000">-1</text><text x="87" y="0" font-size="46" fill="#000">m</text><text x="126" y="-17" font-size="29" fill="#000">-1</text><text x="152.5" y="0" font-size="46" fill="#000">)</text></g><text class="cb" x="339.0" y="700.0" font-size="46" textLength="110.0" lengthAdjust="spacing">Eddy</text><text class="cb" x="473.5" y="700.0" font-size="46" textLength="99.1" lengthAdjust="spacing">heat</text><text class="cb" x="598.5" y="700.0" font-size="46" textLength="80.8" lengthAdjust="spacing">flux</text>
</g>
<g transform="translate(1469.0,1098.1)">
<use href="#frame"/>
<rect x="0" y="0" width="987.0" height="611.5" fill="#b6b6b6"/>
<g clip-path="url(#mapclip)">
<g mask="url(#sea)"><g filter="url(#cmapD)">
<rect x="0" y="0" width="987.0" height="611.5" fill="#000"/>
<rect x="0" y="0" width="987" height="612" fill="#fff" opacity="0.05"/>
<g filter="url(#b12)"><path d="M150.0,330.0 300.0,200.0 480.0,170.0 560.0,280.0 560.0,420.0 400.0,430.0 200.0,460.0Z" fill="#fff" opacity="0.06"/><path d="M400.0,350.0 480.0,330.0 560.0,420.0 640.0,480.0 700.0,480.0 720.0,560.0 640.0,600.0 560.0,560.0 460.0,500.0 400.0,420.0Z" fill="#fff" opacity="0.08"/><path d="M700.0,400.0 800.0,420.0 900.0,400.0 990.0,380.0 990.0,560.0 900.0,580.0 780.0,560.0 700.0,520.0Z" fill="#fff" opacity="0.1"/></g><g filter="url(#b7)"><path d="M26.7,363.3 62.4,349.0 124.3,353.8 133.9,372.9 110.0,391.9 38.6,401.4 24.3,384.8Z" fill="#fff" opacity="0.2"/><ellipse cx="538.6" cy="158.6" rx="19.0" ry="35.7" fill="#fff" opacity="0.1" transform="rotate(-25 538.6 158.6)"/><ellipse cx="729.1" cy="265.7" rx="9.5" ry="23.8" fill="#fff" opacity="0.12" transform="rotate(-20 729.1 265.7)"/></g><g filter="url(#b4)"><ellipse cx="210.0" cy="201.4" rx="20.2" ry="22.6" fill="#fff" opacity="0.2"/><ellipse cx="210.0" cy="201.4" rx="11.9" ry="14.3" fill="none" stroke="#fff" stroke-width="9.5" opacity="0.3"/><ellipse cx="202.9" cy="187.1" rx="7.1" ry="6.0" fill="#fff" opacity="0.25"/><path d="M298.1,237.1 307.7,272.9 319.6,306.2 324.3,332.4" fill="none" stroke="#fff" stroke-width="19.3" stroke-linecap="round" stroke-linejoin="round" opacity="0.4"/><ellipse cx="319.6" cy="306.2" rx="6.0" ry="15.5" fill="#fff" opacity="0.45" transform="rotate(-12 319.6 306.2)"/><path d="M279.1,287.1 291.0,310.9 300.5,330.0" fill="none" stroke="#fff" stroke-width="14.5" stroke-linecap="round" stroke-linejoin="round" opacity="0.35"/><path d="M155.3,322.9 179.1,325.2 198.1,337.1 207.7,349.0" fill="none" stroke="#fff" stroke-width="16.2" stroke-linecap="round" stroke-linejoin="round" opacity="0.4"/><ellipse cx="219.6" cy="296.7" rx="16.7" ry="14.3" fill="none" stroke="#fff" stroke-width="7.1" opacity="0.2"/><ellipse cx="105.3" cy="377.6" rx="14.3" ry="10.7" fill="none" stroke="#fff" stroke-width="8.3" opacity="0.4"/><ellipse cx="45.8" cy="382.4" rx="7.1" ry="11.9" fill="#fff" opacity="0.4"/><ellipse cx="393.4" cy="260.9" rx="11.9" ry="11.9" fill="#fff" opacity="0.18"/><ellipse cx="419.6" cy="194.3" rx="13.1" ry="8.3" fill="none" stroke="#fff" stroke-width="5.2" opacity="0.15"/><ellipse cx="395.8" cy="289.5" rx="14.3" ry="11.9" fill="none" stroke="#fff" stroke-width="5.2" opacity="0.12"/><ellipse cx="431.5" cy="368.1" rx="7.1" ry="14.3" fill="#fff" opacity="0.3"/><ellipse cx="252.9" cy="249.0" rx="7.1" ry="11.9" fill="#fff" opacity="0.2"/><ellipse cx="276.7" cy="146.7" rx="19.0" ry="7.1" fill="#fff" opacity="0.1"/><ellipse cx="381.5" cy="153.8" rx="9.5" ry="6.0" fill="#fff" opacity="0.15"/><ellipse cx="229.1" cy="265.7" rx="9.5" ry="9.5" fill="#fff" opacity="0.15"/><ellipse cx="569.6" cy="265.7" rx="11.9" ry="7.1" fill="#fff" opacity="0.3" transform="rotate(-30 569.6 265.7)"/><ellipse cx="679.1" cy="225.2" rx="7.1" ry="9.5" fill="#fff" opacity="0.2"/><ellipse cx="55.3" cy="389.5" rx="8.3" ry="13.1" fill="none" stroke="#fff" stroke-width="7.1" opacity="0.4"/><ellipse cx="102.9" cy="380.0" rx="13.1" ry="10.7" fill="none" stroke="#fff" stroke-width="7.1" opacity="0.35"/><path d="M419.6,358.6 443.4,370.5 457.7,394.3" fill="none" stroke="#fff" stroke-width="12.9" stroke-linecap="round" stroke-linejoin="round" opacity="0.25"/><ellipse cx="555.3" cy="370.5" rx="10.7" ry="33.3" fill="none" stroke="#fff" stroke-width="8.3" opacity="0.35" transform="rotate(8 555.3 370.5)"/><ellipse cx="643.4" cy="403.8" rx="14.3" ry="14.3" fill="none" stroke="#fff" stroke-width="6.0" opacity="0.15"/><ellipse cx="560.0" cy="532.4" rx="11.9" ry="13.1" fill="none" stroke="#fff" stroke-width="8.3" opacity="0.35"/><path d="M491.0,399.0 514.8,415.7 545.8,425.2 550.5,446.7 538.6,472.9" fill="none" stroke="#fff" stroke-width="14.5" stroke-linecap="round" stroke-linejoin="round" opacity="0.35"/><ellipse cx="698.1" cy="446.7" rx="6.0" ry="21.4" fill="#fff" opacity="0.3" transform="rotate(20 698.1 446.7)"/><ellipse cx="752.9" cy="434.8" rx="6.0" ry="16.7" fill="#fff" opacity="0.4" transform="rotate(10 752.9 434.8)"/><path d="M605.3,444.3 624.3,472.9 657.7,472.9" fill="none" stroke="#fff" stroke-width="12.9" stroke-linecap="round" stroke-linejoin="round" opacity="0.25"/><ellipse cx="805.3" cy="464.5" rx="7.1" ry="13.1" fill="#fff" opacity="0.7" transform="rotate(-30 805.3 464.5)"/><path d="M774.3,446.7 800.5,458.6 824.3,482.4 826.7,503.8 807.7,518.1 788.6,516.9" fill="none" stroke="#fff" stroke-width="17.6" stroke-linecap="round" stroke-linejoin="round" opacity="0.45"/><ellipse cx="793.4" cy="518.1" rx="14.3" ry="8.3" fill="#fff" opacity="0.3"/><ellipse cx="776.7" cy="487.1" rx="7.1" ry="9.5" fill="#fff" opacity="0.3"/><ellipse cx="952.9" cy="434.8" rx="8.3" ry="17.9" fill="none" stroke="#fff" stroke-width="9.5" opacity="0.6" transform="rotate(-20 952.9 434.8)"/><ellipse cx="952.9" cy="434.8" rx="14.3" ry="23.8" fill="#fff" opacity="0.3" transform="rotate(-20 952.9 434.8)"/><path d="M907.7,456.2 914.8,482.4 931.5,499.0" fill="none" stroke="#fff" stroke-width="14.5" stroke-linecap="round" stroke-linejoin="round" opacity="0.45"/><path d="M862.4,506.2 883.9,510.9 900.5,530.0" fill="none" stroke="#fff" stroke-width="11.2" stroke-linecap="round" stroke-linejoin="round" opacity="0.25"/><ellipse cx="848.1" cy="375.2" rx="14.3" ry="9.5" fill="#fff" opacity="0.15"/><ellipse cx="812.4" cy="375.2" rx="9.5" ry="14.3" fill="#fff" opacity="0.15"/><ellipse cx="729.1" cy="506.2" rx="14.3" ry="7.1" fill="#fff" opacity="0.15"/><ellipse cx="752.9" cy="541.9" rx="11.9" ry="4.8" fill="#fff" opacity="0.3"/></g><g filter="url(#b2)"><ellipse cx="210.0" cy="201.4" rx="6.8" ry="9.0" fill="#000" opacity="0.255"/><ellipse cx="219.6" cy="296.7" rx="12.4" ry="10.2" fill="#000" opacity="0.17"/><ellipse cx="105.3" cy="377.6" rx="9.6" ry="6.2" fill="#000" opacity="0.3"/><ellipse cx="419.6" cy="194.3" rx="10.0" ry="5.4" fill="#000" opacity="0.1275"/><ellipse cx="395.8" cy="289.5" rx="11.1" ry="8.8" fill="#000" opacity="0.102"/><ellipse cx="149.3" cy="235.9" rx="1.4" ry="4.3" fill="#fff" opacity="0.9" transform="rotate(20 149.3 235.9)"/><ellipse cx="736.2" cy="330.0" rx="4.8" ry="6.0" fill="#fff" opacity="0.35"/><ellipse cx="974.8" cy="360.5" rx="2.4" ry="3.6" fill="#fff" opacity="0.8"/><ellipse cx="970.0" cy="381.2" rx="1.9" ry="2.4" fill="#fff" opacity="0.9"/><ellipse cx="55.3" cy="389.5" rx="4.5" ry="9.0" fill="#000" opacity="0.3"/><ellipse cx="102.9" cy="380.0" rx="9.0" ry="6.8" fill="#000" opacity="0.2975"/><ellipse cx="392.2" cy="444.3" rx="3.6" ry="7.1" fill="#fff" opacity="0.5"/><ellipse cx="406.5" cy="466.9" rx="2.4" ry="4.8" fill="#fff" opacity="0.5"/><ellipse cx="555.3" cy="370.5" rx="6.2" ry="27.7" fill="#000" opacity="0.2975" transform="rotate(8 555.3 370.5)"/><ellipse cx="643.4" cy="403.8" rx="10.7" ry="10.7" fill="#000" opacity="0.1275"/><ellipse cx="560.0" cy="532.4" rx="7.4" ry="8.5" fill="#000" opacity="0.2975"/><ellipse cx="952.9" cy="434.8" rx="3.4" ry="12.4" fill="#000" opacity="0.3" transform="rotate(-20 952.9 434.8)"/><ellipse cx="947.0" cy="445.5" rx="4.8" ry="7.1" fill="#fff" opacity="0.3"/><ellipse cx="974.3" cy="355.0" rx="2.4" ry="3.6" fill="#fff" opacity="0.7"/></g>
</g></g>
<use href="#isl"/>
<use href="#flat"/>
<rect x="22.0" y="460.5" width="258.3" height="108.3" fill="#fff"/><text x="49.3" y="536.7" font-size="59" textLength="198.8" lengthAdjust="spacingAndGlyphs" fill="#000">August</text><text x="18.0" y="69.3" font-size="60" textLength="87.4" lengthAdjust="spacingAndGlyphs" fill="#000">(D)</text>
</g>
<rect x="-0.4" y="-0.2" width="987.8" height="612.1" fill="none" stroke="#1c1c1c" stroke-width="1.1"/>
<use href="#ticks"/><use href="#cbar"/>
<text x="365.9" y="-70.8" font-size="47.5" textLength="225.7" lengthAdjust="spacingAndGlyphs" fill="#000">Longitude</text><text transform="translate(-96.9,388.0) rotate(-90)" font-size="47.5" textLength="185.5" lengthAdjust="spacingAndGlyphs" fill="#000">Latitude</text><g transform="translate(689.4,702.2) scale(1.013,1)"><text x="-3" y="0" font-size="46" fill="#000">(Js</text><text x="60.5" y="-17" font-size="29" fill="#000">-1</text><text x="87" y="0" font-size="46" fill="#000">m</text><text x="126" y="-17" font-size="29" fill="#000">-1</text><text x="152.5" y="0" font-size="46" fill="#000">)</text></g><text class="cb" x="339.0" y="700.0" font-size="46" textLength="110.0" lengthAdjust="spacing">Eddy</text><text class="cb" x="473.5" y="700.0" font-size="46" textLength="99.1" lengthAdjust="spacing">heat</text><text class="cb" x="598.5" y="700.0" font-size="46" textLength="80.8" lengthAdjust="spacing">flux</text>
</g>
</svg></body></html>
